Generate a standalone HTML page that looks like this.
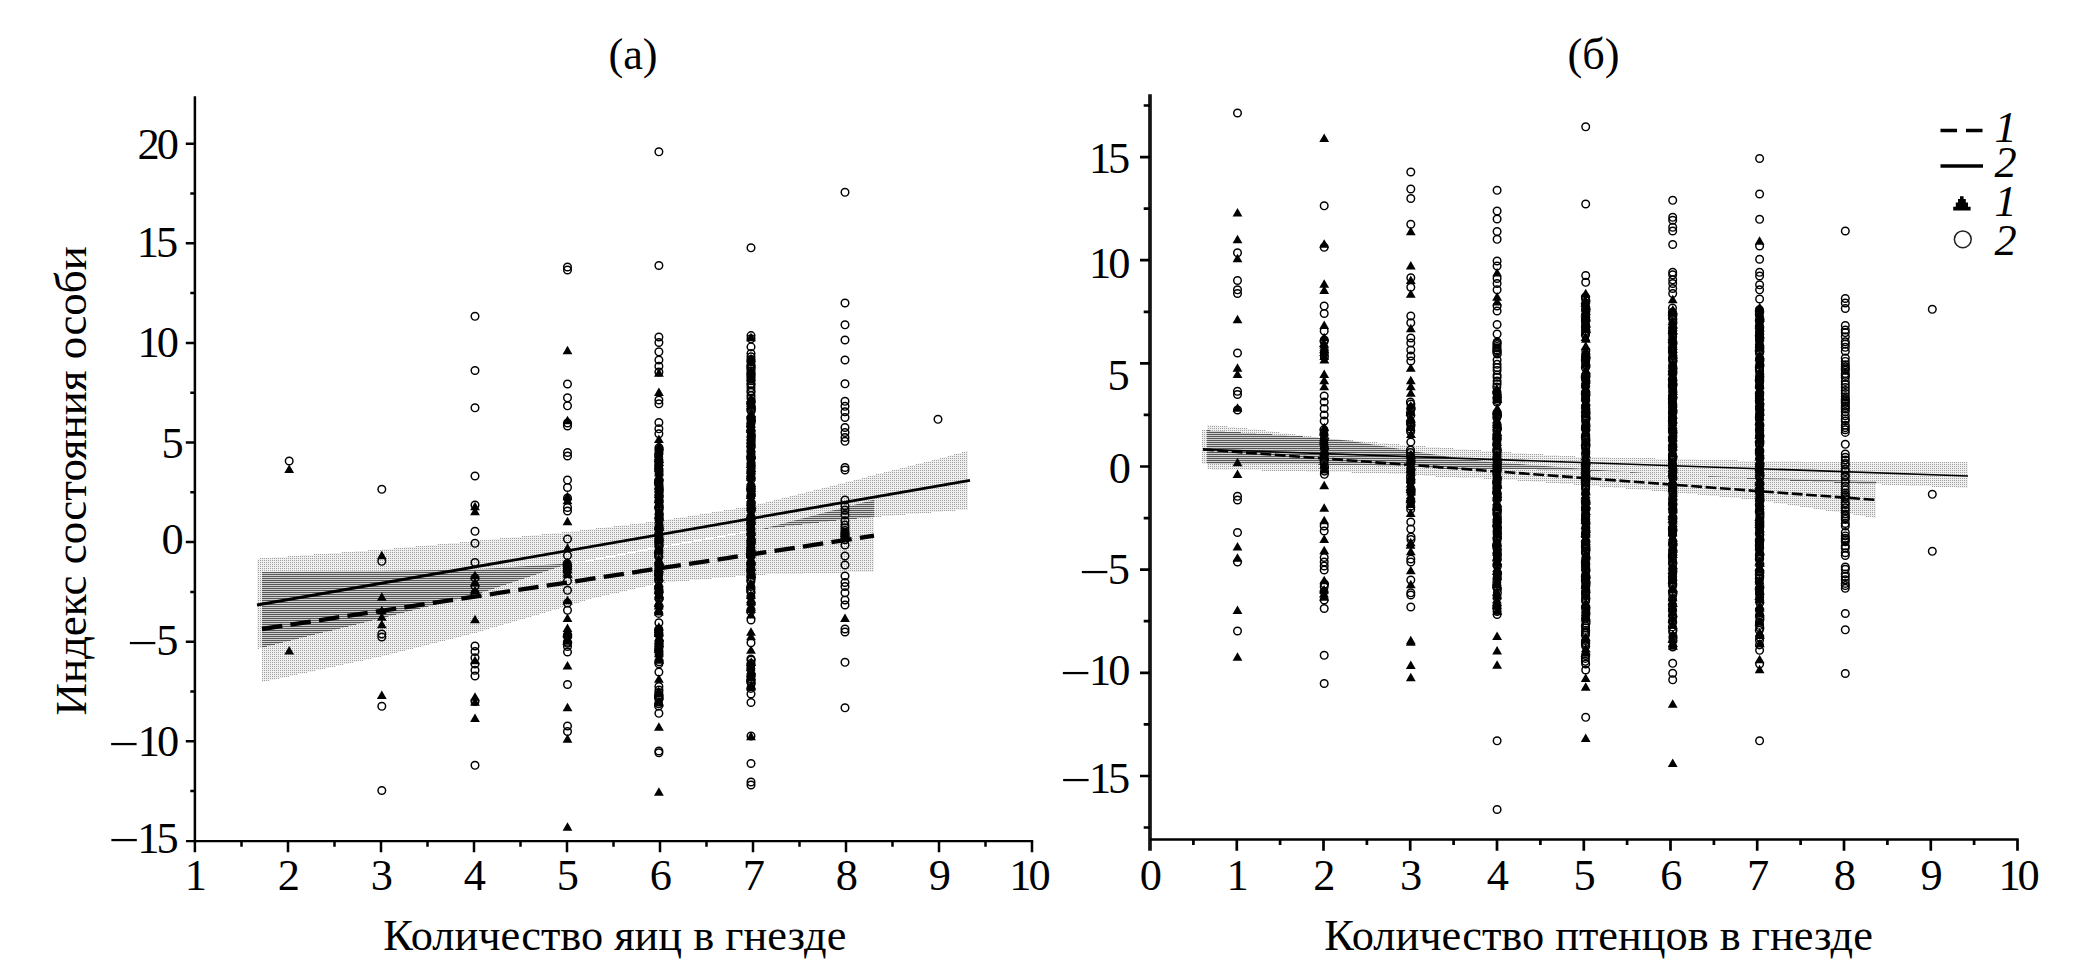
<!DOCTYPE html>
<html lang="ru"><head><meta charset="utf-8"><title>Индекс состояния особи</title>
<style>
html,body{margin:0;padding:0;background:#fff;}
body{width:2079px;height:975px;overflow:hidden;}
svg{display:block;}
text{font-family:"Liberation Serif", serif;font-size:45px;fill:#000;}
.ax{stroke:#000;fill:none;}
.it{font-style:italic;}
</style></head><body>
<svg width="2079" height="975" viewBox="0 0 2079 975">
<defs>
<pattern id="lt" width="2" height="2" patternUnits="userSpaceOnUse"><rect width="2" height="2" fill="#f0f0f0"/><rect width="1" height="1" fill="#a0a0a0"/></pattern>
<pattern id="dk" width="2" height="2" patternUnits="userSpaceOnUse"><rect width="2" height="2" fill="#cfcfcf"/><rect width="2" height="1" fill="#585858"/></pattern>
<clipPath id="ca1"><polygon points="262.0,572.0 381.0,571.0 475.0,569.5 568.0,563.5 588.0,561.5 660.0,548.0 747.0,532.5 766.0,528.0 874.0,499.7 874.0,571.7 766.0,574.5 747.0,575.5 660.0,583.0 588.0,599.5 568.0,606.0 475.0,633.0 381.0,656.5 262.0,682.3"/></clipPath>
<clipPath id="cb1"><polygon points="1207.0,424.4 1262.0,430.0 1306.0,436.0 1351.0,441.0 1406.0,450.0 1440.0,455.6 1492.0,462.0 1581.0,468.8 1669.0,474.7 1757.0,478.0 1876.0,481.3 1876.0,518.0 1757.0,500.0 1669.0,491.9 1581.0,485.0 1492.0,478.8 1440.0,476.9 1406.0,474.0 1351.0,472.5 1306.0,471.5 1262.0,470.5 1207.0,469.4"/></clipPath>
</defs>
<rect width="2079" height="975" fill="#fff"/>
<g shape-rendering="crispEdges">
<polygon points="257.0,558.7 382.0,549.5 475.0,541.0 567.0,532.0 659.0,521.0 751.0,506.0 845.0,482.5 968.0,451.0 968.0,509.5 845.0,519.5 751.0,530.5 659.0,546.5 567.0,564.0 475.0,595.0 382.0,618.0 257.0,649.0" fill="url(#lt)"/>
<polygon points="262.0,572.0 381.0,571.0 475.0,569.5 568.0,563.5 588.0,561.5 660.0,548.0 747.0,532.5 766.0,528.0 874.0,499.7 874.0,571.7 766.0,574.5 747.0,575.5 660.0,583.0 588.0,599.5 568.0,606.0 475.0,633.0 381.0,656.5 262.0,682.3" fill="url(#lt)"/>
<polygon points="257.0,558.7 382.0,549.5 475.0,541.0 567.0,532.0 659.0,521.0 751.0,506.0 845.0,482.5 968.0,451.0 968.0,509.5 845.0,519.5 751.0,530.5 659.0,546.5 567.0,564.0 475.0,595.0 382.0,618.0 257.0,649.0" fill="url(#dk)" clip-path="url(#ca1)"/>
<polygon points="1202.0,430.0 1318.0,437.5 1406.0,445.0 1440.0,447.5 1492.0,451.3 1581.0,456.9 1669.0,458.8 1757.0,461.0 1845.0,462.0 1968.0,462.5 1968.0,488.0 1845.0,483.0 1757.0,479.0 1669.0,474.5 1581.0,470.0 1492.0,469.0 1440.0,468.7 1406.0,466.0 1318.0,464.5 1202.0,463.8" fill="url(#lt)"/>
<polygon points="1207.0,424.4 1262.0,430.0 1306.0,436.0 1351.0,441.0 1406.0,450.0 1440.0,455.6 1492.0,462.0 1581.0,468.8 1669.0,474.7 1757.0,478.0 1876.0,481.3 1876.0,518.0 1757.0,500.0 1669.0,491.9 1581.0,485.0 1492.0,478.8 1440.0,476.9 1406.0,474.0 1351.0,472.5 1306.0,471.5 1262.0,470.5 1207.0,469.4" fill="url(#lt)"/>
<polygon points="1202.0,430.0 1318.0,437.5 1406.0,445.0 1440.0,447.5 1492.0,451.3 1581.0,456.9 1669.0,458.8 1757.0,461.0 1845.0,462.0 1968.0,462.5 1968.0,488.0 1845.0,483.0 1757.0,479.0 1669.0,474.5 1581.0,470.0 1492.0,469.0 1440.0,468.7 1406.0,466.0 1318.0,464.5 1202.0,463.8" fill="url(#dk)" clip-path="url(#cb1)"/>
</g>
<line x1="257" y1="605.0" x2="970" y2="480.3" stroke="#000" stroke-width="2.8"/>
<line x1="262" y1="629.0" x2="874" y2="535.7" stroke="#000" stroke-width="4.3" stroke-dasharray="20.5 8.3"/>
<line x1="1203" y1="449.4" x2="1968" y2="476.0" stroke="#000" stroke-width="1.6"/>
<line x1="1203" y1="449.4" x2="1877" y2="500.0" stroke="#000" stroke-width="2.6" stroke-dasharray="10.8 3.6"/>
<g fill="none" stroke="#000" stroke-width="1.45">
<circle cx="289.2" cy="461.0" r="3.8"/><circle cx="381.8" cy="489.3" r="3.8"/><circle cx="381.8" cy="561.3" r="3.8"/><circle cx="381.8" cy="634.0" r="3.8"/><circle cx="381.8" cy="637.0" r="3.8"/><circle cx="381.8" cy="706.3" r="3.8"/><circle cx="381.8" cy="790.5" r="3.8"/><circle cx="475.0" cy="316.3" r="3.8"/><circle cx="475.0" cy="370.5" r="3.8"/><circle cx="475.0" cy="407.8" r="3.8"/><circle cx="475.0" cy="476.0" r="3.8"/><circle cx="475.0" cy="505.0" r="3.8"/><circle cx="475.0" cy="531.3" r="3.8"/><circle cx="475.0" cy="543.3" r="3.8"/><circle cx="475.0" cy="562.5" r="3.8"/><circle cx="475.0" cy="578.0" r="3.8"/><circle cx="475.0" cy="586.0" r="3.8"/><circle cx="475.0" cy="593.0" r="3.8"/><circle cx="475.0" cy="646.0" r="3.8"/><circle cx="475.0" cy="651.5" r="3.8"/><circle cx="475.0" cy="657.8" r="3.8"/><circle cx="475.0" cy="664.0" r="3.8"/><circle cx="475.0" cy="670.3" r="3.8"/><circle cx="475.0" cy="676.0" r="3.8"/><circle cx="475.0" cy="701.5" r="3.8"/><circle cx="475.0" cy="765.3" r="3.8"/><circle cx="567.5" cy="267.0" r="3.8"/><circle cx="567.5" cy="270.0" r="3.8"/><circle cx="567.5" cy="384.0" r="3.8"/><circle cx="567.5" cy="397.8" r="3.8"/><circle cx="567.5" cy="405.8" r="3.8"/><circle cx="567.5" cy="423.0" r="3.8"/><circle cx="567.5" cy="426.0" r="3.8"/><circle cx="567.5" cy="452.5" r="3.8"/><circle cx="567.5" cy="456.0" r="3.8"/><circle cx="567.5" cy="480.0" r="3.8"/><circle cx="567.5" cy="487.5" r="3.8"/><circle cx="567.5" cy="498.0" r="3.8"/><circle cx="567.5" cy="507.5" r="3.8"/><circle cx="567.5" cy="511.0" r="3.8"/><circle cx="567.5" cy="539.0" r="3.8"/><circle cx="567.5" cy="555.5" r="3.8"/><circle cx="567.2" cy="563.5" r="3.8"/><circle cx="567.2" cy="564.7" r="3.8"/><circle cx="567.4" cy="566.5" r="3.8"/><circle cx="567.3" cy="567.4" r="3.8"/><circle cx="567.2" cy="571.1" r="3.8"/><circle cx="567.5" cy="581.0" r="3.8"/><circle cx="567.5" cy="590.3" r="3.8"/><circle cx="567.5" cy="603.0" r="3.8"/><circle cx="567.5" cy="610.3" r="3.8"/><circle cx="567.6" cy="634.6" r="3.8"/><circle cx="567.7" cy="635.7" r="3.8"/><circle cx="567.6" cy="636.8" r="3.8"/><circle cx="567.3" cy="642.2" r="3.8"/><circle cx="567.6" cy="643.3" r="3.8"/><circle cx="567.5" cy="646.5" r="3.8"/><circle cx="567.5" cy="652.0" r="3.8"/><circle cx="567.5" cy="684.5" r="3.8"/><circle cx="567.5" cy="726.0" r="3.8"/><circle cx="567.5" cy="731.5" r="3.8"/><circle cx="658.9" cy="151.8" r="3.8"/><circle cx="658.9" cy="265.5" r="3.8"/><circle cx="658.9" cy="337.0" r="3.8"/><circle cx="658.9" cy="342.5" r="3.8"/><circle cx="658.9" cy="351.8" r="3.8"/><circle cx="658.9" cy="360.0" r="3.8"/><circle cx="658.9" cy="366.3" r="3.8"/><circle cx="658.9" cy="372.0" r="3.8"/><circle cx="658.9" cy="400.0" r="3.8"/><circle cx="658.9" cy="403.8" r="3.8"/><circle cx="658.9" cy="422.5" r="3.8"/><circle cx="658.9" cy="428.8" r="3.8"/><circle cx="658.9" cy="433.8" r="3.8"/><circle cx="659.0" cy="447.6" r="3.8"/><circle cx="659.1" cy="448.9" r="3.8"/><circle cx="659.0" cy="451.8" r="3.8"/><circle cx="658.6" cy="455.0" r="3.8"/><circle cx="658.9" cy="460.1" r="3.8"/><circle cx="658.8" cy="463.1" r="3.8"/><circle cx="658.7" cy="466.0" r="3.8"/><circle cx="658.8" cy="468.7" r="3.8"/><circle cx="659.0" cy="470.5" r="3.8"/><circle cx="659.1" cy="473.8" r="3.8"/><circle cx="659.2" cy="480.3" r="3.8"/><circle cx="658.6" cy="482.4" r="3.8"/><circle cx="658.9" cy="484.3" r="3.8"/><circle cx="659.2" cy="487.2" r="3.8"/><circle cx="659.2" cy="489.5" r="3.8"/><circle cx="659.1" cy="492.1" r="3.8"/><circle cx="659.2" cy="495.4" r="3.8"/><circle cx="659.1" cy="497.1" r="3.8"/><circle cx="659.0" cy="500.1" r="3.8"/><circle cx="659.2" cy="501.4" r="3.8"/><circle cx="659.2" cy="505.7" r="3.8"/><circle cx="659.0" cy="507.1" r="3.8"/><circle cx="659.0" cy="508.0" r="3.8"/><circle cx="659.1" cy="509.6" r="3.8"/><circle cx="659.2" cy="513.5" r="3.8"/><circle cx="659.2" cy="518.0" r="3.8"/><circle cx="659.2" cy="520.0" r="3.8"/><circle cx="659.0" cy="528.0" r="3.8"/><circle cx="659.2" cy="529.2" r="3.8"/><circle cx="658.7" cy="533.6" r="3.8"/><circle cx="658.9" cy="536.5" r="3.8"/><circle cx="659.1" cy="538.6" r="3.8"/><circle cx="659.1" cy="540.0" r="3.8"/><circle cx="659.0" cy="541.3" r="3.8"/><circle cx="659.0" cy="542.6" r="3.8"/><circle cx="658.9" cy="544.0" r="3.8"/><circle cx="659.2" cy="545.6" r="3.8"/><circle cx="658.9" cy="546.7" r="3.8"/><circle cx="659.0" cy="550.6" r="3.8"/><circle cx="658.7" cy="552.4" r="3.8"/><circle cx="658.7" cy="554.0" r="3.8"/><circle cx="658.7" cy="555.9" r="3.8"/><circle cx="658.9" cy="557.1" r="3.8"/><circle cx="659.0" cy="564.2" r="3.8"/><circle cx="659.2" cy="565.1" r="3.8"/><circle cx="658.8" cy="569.0" r="3.8"/><circle cx="658.9" cy="572.9" r="3.8"/><circle cx="658.6" cy="573.9" r="3.8"/><circle cx="658.6" cy="575.3" r="3.8"/><circle cx="658.6" cy="579.0" r="3.8"/><circle cx="658.8" cy="580.5" r="3.8"/><circle cx="658.8" cy="587.0" r="3.8"/><circle cx="659.1" cy="591.0" r="3.8"/><circle cx="658.9" cy="592.4" r="3.8"/><circle cx="659.0" cy="597.4" r="3.8"/><circle cx="659.1" cy="599.1" r="3.8"/><circle cx="659.1" cy="606.6" r="3.8"/><circle cx="658.7" cy="613.4" r="3.8"/><circle cx="658.9" cy="622.8" r="3.8"/><circle cx="658.8" cy="629.2" r="3.8"/><circle cx="658.7" cy="630.5" r="3.8"/><circle cx="658.7" cy="633.7" r="3.8"/><circle cx="659.1" cy="635.1" r="3.8"/><circle cx="659.2" cy="641.1" r="3.8"/><circle cx="658.9" cy="644.1" r="3.8"/><circle cx="659.1" cy="645.8" r="3.8"/><circle cx="659.0" cy="647.6" r="3.8"/><circle cx="658.6" cy="649.8" r="3.8"/><circle cx="659.0" cy="651.3" r="3.8"/><circle cx="659.1" cy="654.6" r="3.8"/><circle cx="659.2" cy="661.7" r="3.8"/><circle cx="658.9" cy="663.7" r="3.8"/><circle cx="658.9" cy="672.0" r="3.8"/><circle cx="658.9" cy="686.5" r="3.8"/><circle cx="659.0" cy="690.0" r="3.8"/><circle cx="658.8" cy="692.5" r="3.8"/><circle cx="659.0" cy="694.9" r="3.8"/><circle cx="658.9" cy="696.0" r="3.8"/><circle cx="658.6" cy="697.3" r="3.8"/><circle cx="659.2" cy="698.3" r="3.8"/><circle cx="658.9" cy="699.2" r="3.8"/><circle cx="658.6" cy="703.7" r="3.8"/><circle cx="658.6" cy="706.0" r="3.8"/><circle cx="658.9" cy="713.3" r="3.8"/><circle cx="658.9" cy="752.8" r="3.8"/><circle cx="658.9" cy="751.0" r="3.8"/><circle cx="751.0" cy="247.8" r="3.8"/><circle cx="751.0" cy="335.6" r="3.8"/><circle cx="751.0" cy="338.8" r="3.8"/><circle cx="751.0" cy="346.9" r="3.8"/><circle cx="751.0" cy="353.5" r="3.8"/><circle cx="751.0" cy="356.7" r="3.8"/><circle cx="751.0" cy="359.5" r="3.8"/><circle cx="751.0" cy="361.1" r="3.8"/><circle cx="751.0" cy="364.4" r="3.8"/><circle cx="751.0" cy="366.6" r="3.8"/><circle cx="751.0" cy="367.8" r="3.8"/><circle cx="751.0" cy="369.0" r="3.8"/><circle cx="751.0" cy="371.3" r="3.8"/><circle cx="751.0" cy="373.5" r="3.8"/><circle cx="751.0" cy="375.3" r="3.8"/><circle cx="751.0" cy="376.8" r="3.8"/><circle cx="751.0" cy="378.7" r="3.8"/><circle cx="751.0" cy="380.6" r="3.8"/><circle cx="751.0" cy="383.7" r="3.8"/><circle cx="751.0" cy="384.8" r="3.8"/><circle cx="751.0" cy="387.7" r="3.8"/><circle cx="751.0" cy="390.8" r="3.8"/><circle cx="751.0" cy="392.2" r="3.8"/><circle cx="751.0" cy="395.5" r="3.8"/><circle cx="751.0" cy="398.3" r="3.8"/><circle cx="751.3" cy="401.2" r="3.8"/><circle cx="750.7" cy="403.3" r="3.8"/><circle cx="751.3" cy="406.7" r="3.8"/><circle cx="751.1" cy="408.4" r="3.8"/><circle cx="751.0" cy="410.2" r="3.8"/><circle cx="751.2" cy="411.1" r="3.8"/><circle cx="750.9" cy="418.0" r="3.8"/><circle cx="751.3" cy="420.3" r="3.8"/><circle cx="751.3" cy="421.4" r="3.8"/><circle cx="750.8" cy="424.6" r="3.8"/><circle cx="750.7" cy="430.7" r="3.8"/><circle cx="751.3" cy="434.6" r="3.8"/><circle cx="751.3" cy="437.9" r="3.8"/><circle cx="751.2" cy="441.1" r="3.8"/><circle cx="751.0" cy="444.0" r="3.8"/><circle cx="751.2" cy="445.8" r="3.8"/><circle cx="751.0" cy="447.4" r="3.8"/><circle cx="750.8" cy="451.1" r="3.8"/><circle cx="751.0" cy="456.2" r="3.8"/><circle cx="751.3" cy="457.7" r="3.8"/><circle cx="750.8" cy="458.7" r="3.8"/><circle cx="751.1" cy="462.8" r="3.8"/><circle cx="751.2" cy="466.7" r="3.8"/><circle cx="750.9" cy="471.1" r="3.8"/><circle cx="751.1" cy="473.7" r="3.8"/><circle cx="750.9" cy="477.4" r="3.8"/><circle cx="751.2" cy="479.2" r="3.8"/><circle cx="750.9" cy="486.6" r="3.8"/><circle cx="751.2" cy="488.8" r="3.8"/><circle cx="750.7" cy="490.0" r="3.8"/><circle cx="751.2" cy="493.7" r="3.8"/><circle cx="750.8" cy="496.4" r="3.8"/><circle cx="751.2" cy="502.4" r="3.8"/><circle cx="751.0" cy="504.9" r="3.8"/><circle cx="751.0" cy="508.1" r="3.8"/><circle cx="751.2" cy="509.1" r="3.8"/><circle cx="751.2" cy="510.8" r="3.8"/><circle cx="751.3" cy="517.9" r="3.8"/><circle cx="750.9" cy="521.4" r="3.8"/><circle cx="751.2" cy="523.0" r="3.8"/><circle cx="750.7" cy="524.5" r="3.8"/><circle cx="750.8" cy="528.3" r="3.8"/><circle cx="751.1" cy="533.4" r="3.8"/><circle cx="751.0" cy="534.3" r="3.8"/><circle cx="751.1" cy="539.1" r="3.8"/><circle cx="751.2" cy="541.4" r="3.8"/><circle cx="751.1" cy="542.4" r="3.8"/><circle cx="750.8" cy="544.5" r="3.8"/><circle cx="750.8" cy="548.5" r="3.8"/><circle cx="751.0" cy="551.3" r="3.8"/><circle cx="750.8" cy="552.2" r="3.8"/><circle cx="750.9" cy="555.5" r="3.8"/><circle cx="750.9" cy="556.8" r="3.8"/><circle cx="750.9" cy="562.6" r="3.8"/><circle cx="751.3" cy="564.0" r="3.8"/><circle cx="750.7" cy="565.1" r="3.8"/><circle cx="750.9" cy="568.5" r="3.8"/><circle cx="750.8" cy="569.6" r="3.8"/><circle cx="750.7" cy="571.7" r="3.8"/><circle cx="751.3" cy="574.8" r="3.8"/><circle cx="750.7" cy="576.4" r="3.8"/><circle cx="751.3" cy="578.0" r="3.8"/><circle cx="750.8" cy="580.1" r="3.8"/><circle cx="750.9" cy="581.4" r="3.8"/><circle cx="750.8" cy="586.5" r="3.8"/><circle cx="750.7" cy="588.9" r="3.8"/><circle cx="750.7" cy="591.1" r="3.8"/><circle cx="751.1" cy="592.4" r="3.8"/><circle cx="750.9" cy="596.7" r="3.8"/><circle cx="751.2" cy="603.4" r="3.8"/><circle cx="750.7" cy="611.4" r="3.8"/><circle cx="751.0" cy="620.0" r="3.8"/><circle cx="751.0" cy="642.8" r="3.8"/><circle cx="750.9" cy="659.0" r="3.8"/><circle cx="751.2" cy="660.0" r="3.8"/><circle cx="751.0" cy="663.4" r="3.8"/><circle cx="750.8" cy="665.2" r="3.8"/><circle cx="750.8" cy="668.7" r="3.8"/><circle cx="751.1" cy="674.9" r="3.8"/><circle cx="751.0" cy="679.0" r="3.8"/><circle cx="750.7" cy="680.8" r="3.8"/><circle cx="750.9" cy="682.4" r="3.8"/><circle cx="751.3" cy="683.6" r="3.8"/><circle cx="750.8" cy="688.4" r="3.8"/><circle cx="751.0" cy="694.0" r="3.8"/><circle cx="751.0" cy="702.5" r="3.8"/><circle cx="751.0" cy="736.0" r="3.8"/><circle cx="751.0" cy="763.5" r="3.8"/><circle cx="751.0" cy="782.0" r="3.8"/><circle cx="751.0" cy="785.0" r="3.8"/><circle cx="845.0" cy="192.3" r="3.8"/><circle cx="845.0" cy="303.0" r="3.8"/><circle cx="845.0" cy="324.8" r="3.8"/><circle cx="845.0" cy="340.0" r="3.8"/><circle cx="845.0" cy="360.0" r="3.8"/><circle cx="845.0" cy="383.8" r="3.8"/><circle cx="845.0" cy="401.3" r="3.8"/><circle cx="845.0" cy="406.3" r="3.8"/><circle cx="845.0" cy="411.8" r="3.8"/><circle cx="845.0" cy="417.5" r="3.8"/><circle cx="845.0" cy="427.5" r="3.8"/><circle cx="845.0" cy="432.5" r="3.8"/><circle cx="845.0" cy="437.5" r="3.8"/><circle cx="845.0" cy="441.3" r="3.8"/><circle cx="845.0" cy="467.5" r="3.8"/><circle cx="845.0" cy="470.0" r="3.8"/><circle cx="845.0" cy="500.0" r="3.8"/><circle cx="845.0" cy="506.0" r="3.8"/><circle cx="845.0" cy="510.0" r="3.8"/><circle cx="845.0" cy="515.0" r="3.8"/><circle cx="845.0" cy="521.0" r="3.8"/><circle cx="845.0" cy="525.0" r="3.8"/><circle cx="845.0" cy="527.7" r="3.8"/><circle cx="845.0" cy="530.6" r="3.8"/><circle cx="845.0" cy="532.7" r="3.8"/><circle cx="845.0" cy="533.9" r="3.8"/><circle cx="845.0" cy="535.2" r="3.8"/><circle cx="845.0" cy="536.9" r="3.8"/><circle cx="845.0" cy="539.7" r="3.8"/><circle cx="845.0" cy="545.0" r="3.8"/><circle cx="845.0" cy="556.0" r="3.8"/><circle cx="845.0" cy="565.0" r="3.8"/><circle cx="845.0" cy="576.0" r="3.8"/><circle cx="845.0" cy="582.5" r="3.8"/><circle cx="845.0" cy="586.5" r="3.8"/><circle cx="845.0" cy="592.8" r="3.8"/><circle cx="845.0" cy="600.0" r="3.8"/><circle cx="845.0" cy="605.0" r="3.8"/><circle cx="845.0" cy="629.0" r="3.8"/><circle cx="845.0" cy="632.0" r="3.8"/><circle cx="845.0" cy="662.3" r="3.8"/><circle cx="845.0" cy="707.8" r="3.8"/><circle cx="938.0" cy="419.3" r="3.8"/><circle cx="1237.5" cy="113.0" r="3.8"/><circle cx="1237.5" cy="252.8" r="3.8"/><circle cx="1237.5" cy="280.5" r="3.8"/><circle cx="1237.5" cy="289.8" r="3.8"/><circle cx="1237.5" cy="293.5" r="3.8"/><circle cx="1237.5" cy="353.0" r="3.8"/><circle cx="1237.5" cy="391.3" r="3.8"/><circle cx="1237.5" cy="394.5" r="3.8"/><circle cx="1237.5" cy="410.0" r="3.8"/><circle cx="1237.5" cy="496.3" r="3.8"/><circle cx="1237.5" cy="500.0" r="3.8"/><circle cx="1237.5" cy="532.5" r="3.8"/><circle cx="1237.5" cy="562.0" r="3.8"/><circle cx="1237.5" cy="631.0" r="3.8"/><circle cx="1324.2" cy="205.8" r="3.8"/><circle cx="1324.2" cy="247.3" r="3.8"/><circle cx="1324.2" cy="306.0" r="3.8"/><circle cx="1324.2" cy="313.5" r="3.8"/><circle cx="1324.2" cy="331.0" r="3.8"/><circle cx="1324.3" cy="340.0" r="3.8"/><circle cx="1324.1" cy="341.5" r="3.8"/><circle cx="1324.3" cy="353.0" r="3.8"/><circle cx="1324.4" cy="357.0" r="3.8"/><circle cx="1324.2" cy="396.0" r="3.8"/><circle cx="1324.2" cy="402.0" r="3.8"/><circle cx="1324.2" cy="408.5" r="3.8"/><circle cx="1324.2" cy="415.0" r="3.8"/><circle cx="1324.2" cy="421.0" r="3.8"/><circle cx="1323.9" cy="429.6" r="3.8"/><circle cx="1323.9" cy="433.9" r="3.8"/><circle cx="1324.3" cy="438.8" r="3.8"/><circle cx="1323.9" cy="443.0" r="3.8"/><circle cx="1324.4" cy="448.0" r="3.8"/><circle cx="1324.4" cy="453.5" r="3.8"/><circle cx="1324.2" cy="458.1" r="3.8"/><circle cx="1324.1" cy="460.2" r="3.8"/><circle cx="1324.1" cy="463.0" r="3.8"/><circle cx="1324.6" cy="467.0" r="3.8"/><circle cx="1324.5" cy="471.1" r="3.8"/><circle cx="1324.4" cy="474.3" r="3.8"/><circle cx="1324.2" cy="526.0" r="3.8"/><circle cx="1324.2" cy="531.0" r="3.8"/><circle cx="1324.2" cy="557.5" r="3.8"/><circle cx="1324.2" cy="562.0" r="3.8"/><circle cx="1324.2" cy="566.0" r="3.8"/><circle cx="1324.2" cy="570.0" r="3.8"/><circle cx="1324.5" cy="584.0" r="3.8"/><circle cx="1324.2" cy="586.8" r="3.8"/><circle cx="1324.0" cy="591.6" r="3.8"/><circle cx="1324.2" cy="600.0" r="3.8"/><circle cx="1324.2" cy="608.5" r="3.8"/><circle cx="1324.2" cy="655.3" r="3.8"/><circle cx="1324.2" cy="683.5" r="3.8"/><circle cx="1410.8" cy="172.0" r="3.8"/><circle cx="1410.8" cy="189.0" r="3.8"/><circle cx="1410.8" cy="198.5" r="3.8"/><circle cx="1410.8" cy="224.3" r="3.8"/><circle cx="1410.8" cy="277.8" r="3.8"/><circle cx="1410.8" cy="287.3" r="3.8"/><circle cx="1410.8" cy="316.0" r="3.8"/><circle cx="1410.8" cy="322.8" r="3.8"/><circle cx="1410.8" cy="338.0" r="3.8"/><circle cx="1410.8" cy="343.0" r="3.8"/><circle cx="1410.8" cy="350.0" r="3.8"/><circle cx="1410.8" cy="356.0" r="3.8"/><circle cx="1410.8" cy="361.0" r="3.8"/><circle cx="1410.4" cy="402.0" r="3.8"/><circle cx="1410.9" cy="404.1" r="3.8"/><circle cx="1411.0" cy="407.7" r="3.8"/><circle cx="1411.0" cy="409.0" r="3.8"/><circle cx="1410.4" cy="412.9" r="3.8"/><circle cx="1410.8" cy="415.2" r="3.8"/><circle cx="1410.6" cy="421.8" r="3.8"/><circle cx="1410.6" cy="423.5" r="3.8"/><circle cx="1411.0" cy="425.4" r="3.8"/><circle cx="1410.6" cy="429.3" r="3.8"/><circle cx="1410.6" cy="431.7" r="3.8"/><circle cx="1410.8" cy="442.0" r="3.8"/><circle cx="1410.5" cy="450.0" r="3.8"/><circle cx="1410.4" cy="452.5" r="3.8"/><circle cx="1410.6" cy="456.1" r="3.8"/><circle cx="1410.9" cy="458.9" r="3.8"/><circle cx="1410.9" cy="462.4" r="3.8"/><circle cx="1411.0" cy="469.8" r="3.8"/><circle cx="1410.8" cy="473.2" r="3.8"/><circle cx="1410.5" cy="476.9" r="3.8"/><circle cx="1410.9" cy="480.6" r="3.8"/><circle cx="1410.7" cy="481.9" r="3.8"/><circle cx="1411.1" cy="489.9" r="3.8"/><circle cx="1411.1" cy="492.8" r="3.8"/><circle cx="1410.9" cy="501.4" r="3.8"/><circle cx="1410.7" cy="506.2" r="3.8"/><circle cx="1410.7" cy="509.4" r="3.8"/><circle cx="1410.8" cy="522.0" r="3.8"/><circle cx="1410.8" cy="529.0" r="3.8"/><circle cx="1411.0" cy="537.0" r="3.8"/><circle cx="1411.0" cy="539.6" r="3.8"/><circle cx="1410.8" cy="559.0" r="3.8"/><circle cx="1410.8" cy="562.0" r="3.8"/><circle cx="1410.8" cy="580.0" r="3.8"/><circle cx="1410.8" cy="592.8" r="3.8"/><circle cx="1410.8" cy="595.0" r="3.8"/><circle cx="1410.8" cy="607.0" r="3.8"/><circle cx="1497.1" cy="190.3" r="3.8"/><circle cx="1497.1" cy="211.0" r="3.8"/><circle cx="1497.1" cy="219.0" r="3.8"/><circle cx="1497.1" cy="231.5" r="3.8"/><circle cx="1497.1" cy="239.3" r="3.8"/><circle cx="1497.1" cy="261.0" r="3.8"/><circle cx="1497.1" cy="266.0" r="3.8"/><circle cx="1497.1" cy="278.5" r="3.8"/><circle cx="1497.1" cy="283.5" r="3.8"/><circle cx="1497.1" cy="289.8" r="3.8"/><circle cx="1497.1" cy="306.0" r="3.8"/><circle cx="1497.1" cy="311.0" r="3.8"/><circle cx="1497.1" cy="324.5" r="3.8"/><circle cx="1497.1" cy="334.0" r="3.8"/><circle cx="1497.2" cy="342.0" r="3.8"/><circle cx="1497.0" cy="343.1" r="3.8"/><circle cx="1497.0" cy="344.6" r="3.8"/><circle cx="1496.9" cy="346.4" r="3.8"/><circle cx="1497.0" cy="348.0" r="3.8"/><circle cx="1496.8" cy="349.9" r="3.8"/><circle cx="1497.3" cy="350.9" r="3.8"/><circle cx="1496.8" cy="352.3" r="3.8"/><circle cx="1497.3" cy="354.0" r="3.8"/><circle cx="1497.1" cy="360.0" r="3.8"/><circle cx="1497.1" cy="364.3" r="3.8"/><circle cx="1497.1" cy="367.5" r="3.8"/><circle cx="1497.1" cy="370.4" r="3.8"/><circle cx="1497.1" cy="375.1" r="3.8"/><circle cx="1497.1" cy="377.3" r="3.8"/><circle cx="1497.1" cy="381.1" r="3.8"/><circle cx="1497.1" cy="384.0" r="3.8"/><circle cx="1496.8" cy="387.0" r="3.8"/><circle cx="1496.9" cy="391.8" r="3.8"/><circle cx="1497.3" cy="396.2" r="3.8"/><circle cx="1497.1" cy="397.7" r="3.8"/><circle cx="1497.3" cy="400.5" r="3.8"/><circle cx="1497.0" cy="402.2" r="3.8"/><circle cx="1497.0" cy="412.7" r="3.8"/><circle cx="1497.2" cy="414.0" r="3.8"/><circle cx="1497.4" cy="415.2" r="3.8"/><circle cx="1497.3" cy="416.0" r="3.8"/><circle cx="1496.8" cy="417.7" r="3.8"/><circle cx="1497.2" cy="427.2" r="3.8"/><circle cx="1497.4" cy="428.7" r="3.8"/><circle cx="1496.9" cy="430.4" r="3.8"/><circle cx="1496.8" cy="434.6" r="3.8"/><circle cx="1497.1" cy="436.8" r="3.8"/><circle cx="1496.8" cy="438.6" r="3.8"/><circle cx="1497.1" cy="439.9" r="3.8"/><circle cx="1496.8" cy="443.5" r="3.8"/><circle cx="1496.8" cy="445.0" r="3.8"/><circle cx="1497.1" cy="448.4" r="3.8"/><circle cx="1496.8" cy="450.1" r="3.8"/><circle cx="1497.0" cy="451.6" r="3.8"/><circle cx="1497.1" cy="452.8" r="3.8"/><circle cx="1497.1" cy="455.7" r="3.8"/><circle cx="1496.9" cy="458.2" r="3.8"/><circle cx="1497.2" cy="460.1" r="3.8"/><circle cx="1497.2" cy="462.7" r="3.8"/><circle cx="1497.3" cy="463.6" r="3.8"/><circle cx="1496.9" cy="465.8" r="3.8"/><circle cx="1497.2" cy="467.2" r="3.8"/><circle cx="1497.2" cy="469.0" r="3.8"/><circle cx="1497.2" cy="470.5" r="3.8"/><circle cx="1496.9" cy="472.1" r="3.8"/><circle cx="1496.8" cy="474.4" r="3.8"/><circle cx="1497.3" cy="477.9" r="3.8"/><circle cx="1497.1" cy="480.1" r="3.8"/><circle cx="1496.8" cy="481.9" r="3.8"/><circle cx="1496.8" cy="482.8" r="3.8"/><circle cx="1497.0" cy="485.0" r="3.8"/><circle cx="1497.4" cy="486.9" r="3.8"/><circle cx="1496.8" cy="488.1" r="3.8"/><circle cx="1496.8" cy="491.8" r="3.8"/><circle cx="1496.8" cy="492.8" r="3.8"/><circle cx="1497.3" cy="494.7" r="3.8"/><circle cx="1497.2" cy="497.9" r="3.8"/><circle cx="1496.9" cy="499.8" r="3.8"/><circle cx="1496.9" cy="508.5" r="3.8"/><circle cx="1497.2" cy="509.7" r="3.8"/><circle cx="1497.0" cy="510.9" r="3.8"/><circle cx="1497.3" cy="512.8" r="3.8"/><circle cx="1496.8" cy="513.9" r="3.8"/><circle cx="1497.4" cy="516.9" r="3.8"/><circle cx="1497.0" cy="520.2" r="3.8"/><circle cx="1497.4" cy="521.6" r="3.8"/><circle cx="1497.2" cy="524.0" r="3.8"/><circle cx="1496.8" cy="525.8" r="3.8"/><circle cx="1497.4" cy="527.5" r="3.8"/><circle cx="1497.3" cy="528.6" r="3.8"/><circle cx="1497.1" cy="531.1" r="3.8"/><circle cx="1497.3" cy="532.1" r="3.8"/><circle cx="1497.2" cy="533.2" r="3.8"/><circle cx="1497.3" cy="536.1" r="3.8"/><circle cx="1497.3" cy="537.1" r="3.8"/><circle cx="1497.2" cy="538.1" r="3.8"/><circle cx="1497.1" cy="539.9" r="3.8"/><circle cx="1497.0" cy="543.9" r="3.8"/><circle cx="1496.8" cy="544.9" r="3.8"/><circle cx="1496.8" cy="546.2" r="3.8"/><circle cx="1496.9" cy="547.9" r="3.8"/><circle cx="1497.4" cy="550.0" r="3.8"/><circle cx="1497.0" cy="553.2" r="3.8"/><circle cx="1497.3" cy="555.0" r="3.8"/><circle cx="1497.4" cy="558.8" r="3.8"/><circle cx="1496.9" cy="564.5" r="3.8"/><circle cx="1497.4" cy="566.2" r="3.8"/><circle cx="1497.4" cy="573.0" r="3.8"/><circle cx="1497.3" cy="574.0" r="3.8"/><circle cx="1497.3" cy="577.1" r="3.8"/><circle cx="1497.0" cy="579.0" r="3.8"/><circle cx="1496.8" cy="582.6" r="3.8"/><circle cx="1496.8" cy="586.0" r="3.8"/><circle cx="1496.8" cy="587.4" r="3.8"/><circle cx="1497.4" cy="588.9" r="3.8"/><circle cx="1497.4" cy="592.8" r="3.8"/><circle cx="1497.1" cy="597.6" r="3.8"/><circle cx="1496.9" cy="606.3" r="3.8"/><circle cx="1496.9" cy="608.4" r="3.8"/><circle cx="1497.1" cy="611.5" r="3.8"/><circle cx="1497.1" cy="614.5" r="3.8"/><circle cx="1497.1" cy="740.8" r="3.8"/><circle cx="1497.1" cy="809.5" r="3.8"/><circle cx="1585.7" cy="126.8" r="3.8"/><circle cx="1585.7" cy="204.0" r="3.8"/><circle cx="1585.7" cy="275.5" r="3.8"/><circle cx="1585.7" cy="282.3" r="3.8"/><circle cx="1585.4" cy="297.0" r="3.8"/><circle cx="1585.5" cy="298.5" r="3.8"/><circle cx="1586.0" cy="300.9" r="3.8"/><circle cx="1585.4" cy="304.4" r="3.8"/><circle cx="1585.9" cy="308.1" r="3.8"/><circle cx="1585.7" cy="309.1" r="3.8"/><circle cx="1585.9" cy="311.1" r="3.8"/><circle cx="1585.8" cy="314.6" r="3.8"/><circle cx="1585.4" cy="318.8" r="3.8"/><circle cx="1585.9" cy="320.0" r="3.8"/><circle cx="1585.4" cy="321.3" r="3.8"/><circle cx="1585.6" cy="324.7" r="3.8"/><circle cx="1585.4" cy="326.9" r="3.8"/><circle cx="1585.6" cy="330.5" r="3.8"/><circle cx="1586.0" cy="331.6" r="3.8"/><circle cx="1585.7" cy="333.2" r="3.8"/><circle cx="1585.4" cy="335.1" r="3.8"/><circle cx="1585.8" cy="350.8" r="3.8"/><circle cx="1585.7" cy="354.9" r="3.8"/><circle cx="1585.8" cy="357.0" r="3.8"/><circle cx="1585.8" cy="357.9" r="3.8"/><circle cx="1585.9" cy="358.9" r="3.8"/><circle cx="1585.6" cy="360.2" r="3.8"/><circle cx="1585.6" cy="361.5" r="3.8"/><circle cx="1585.7" cy="364.4" r="3.8"/><circle cx="1586.0" cy="366.0" r="3.8"/><circle cx="1585.4" cy="367.8" r="3.8"/><circle cx="1585.9" cy="375.5" r="3.8"/><circle cx="1585.9" cy="377.0" r="3.8"/><circle cx="1585.4" cy="378.7" r="3.8"/><circle cx="1586.0" cy="381.2" r="3.8"/><circle cx="1585.4" cy="385.6" r="3.8"/><circle cx="1585.7" cy="391.9" r="3.8"/><circle cx="1585.7" cy="393.4" r="3.8"/><circle cx="1585.8" cy="394.4" r="3.8"/><circle cx="1585.8" cy="395.8" r="3.8"/><circle cx="1585.6" cy="398.3" r="3.8"/><circle cx="1585.6" cy="399.1" r="3.8"/><circle cx="1585.7" cy="400.2" r="3.8"/><circle cx="1585.7" cy="405.9" r="3.8"/><circle cx="1585.5" cy="406.9" r="3.8"/><circle cx="1585.8" cy="409.7" r="3.8"/><circle cx="1585.9" cy="411.4" r="3.8"/><circle cx="1585.9" cy="413.0" r="3.8"/><circle cx="1585.9" cy="414.3" r="3.8"/><circle cx="1585.4" cy="416.1" r="3.8"/><circle cx="1585.9" cy="416.9" r="3.8"/><circle cx="1586.0" cy="418.3" r="3.8"/><circle cx="1585.9" cy="419.5" r="3.8"/><circle cx="1585.6" cy="421.0" r="3.8"/><circle cx="1585.9" cy="424.7" r="3.8"/><circle cx="1585.5" cy="427.2" r="3.8"/><circle cx="1585.4" cy="428.6" r="3.8"/><circle cx="1585.9" cy="429.8" r="3.8"/><circle cx="1585.7" cy="434.8" r="3.8"/><circle cx="1585.7" cy="436.5" r="3.8"/><circle cx="1585.7" cy="437.9" r="3.8"/><circle cx="1585.6" cy="439.1" r="3.8"/><circle cx="1586.0" cy="440.3" r="3.8"/><circle cx="1585.7" cy="442.9" r="3.8"/><circle cx="1586.0" cy="444.7" r="3.8"/><circle cx="1585.8" cy="445.9" r="3.8"/><circle cx="1585.7" cy="447.1" r="3.8"/><circle cx="1585.6" cy="448.1" r="3.8"/><circle cx="1585.8" cy="451.6" r="3.8"/><circle cx="1585.6" cy="454.5" r="3.8"/><circle cx="1585.8" cy="463.7" r="3.8"/><circle cx="1585.7" cy="464.7" r="3.8"/><circle cx="1585.8" cy="465.8" r="3.8"/><circle cx="1585.5" cy="468.7" r="3.8"/><circle cx="1585.9" cy="471.0" r="3.8"/><circle cx="1585.6" cy="474.3" r="3.8"/><circle cx="1586.0" cy="476.4" r="3.8"/><circle cx="1586.0" cy="478.5" r="3.8"/><circle cx="1585.7" cy="480.3" r="3.8"/><circle cx="1585.4" cy="481.4" r="3.8"/><circle cx="1585.6" cy="483.1" r="3.8"/><circle cx="1585.6" cy="484.8" r="3.8"/><circle cx="1585.7" cy="486.6" r="3.8"/><circle cx="1585.6" cy="487.7" r="3.8"/><circle cx="1585.6" cy="488.8" r="3.8"/><circle cx="1585.6" cy="493.0" r="3.8"/><circle cx="1585.9" cy="502.1" r="3.8"/><circle cx="1585.6" cy="503.1" r="3.8"/><circle cx="1585.4" cy="507.4" r="3.8"/><circle cx="1586.0" cy="508.5" r="3.8"/><circle cx="1585.5" cy="509.7" r="3.8"/><circle cx="1585.6" cy="513.8" r="3.8"/><circle cx="1585.5" cy="516.1" r="3.8"/><circle cx="1585.6" cy="518.7" r="3.8"/><circle cx="1585.4" cy="520.8" r="3.8"/><circle cx="1585.6" cy="522.0" r="3.8"/><circle cx="1586.0" cy="523.6" r="3.8"/><circle cx="1585.8" cy="527.4" r="3.8"/><circle cx="1585.9" cy="531.7" r="3.8"/><circle cx="1585.6" cy="534.5" r="3.8"/><circle cx="1585.9" cy="535.5" r="3.8"/><circle cx="1585.9" cy="541.2" r="3.8"/><circle cx="1585.5" cy="543.8" r="3.8"/><circle cx="1585.4" cy="545.4" r="3.8"/><circle cx="1585.9" cy="546.7" r="3.8"/><circle cx="1585.4" cy="547.8" r="3.8"/><circle cx="1586.0" cy="549.1" r="3.8"/><circle cx="1585.9" cy="550.7" r="3.8"/><circle cx="1585.4" cy="552.1" r="3.8"/><circle cx="1585.7" cy="553.4" r="3.8"/><circle cx="1586.0" cy="557.4" r="3.8"/><circle cx="1585.4" cy="561.3" r="3.8"/><circle cx="1585.7" cy="564.3" r="3.8"/><circle cx="1585.6" cy="565.5" r="3.8"/><circle cx="1585.7" cy="568.3" r="3.8"/><circle cx="1585.8" cy="569.4" r="3.8"/><circle cx="1585.9" cy="570.8" r="3.8"/><circle cx="1585.6" cy="575.0" r="3.8"/><circle cx="1586.0" cy="577.1" r="3.8"/><circle cx="1585.9" cy="578.1" r="3.8"/><circle cx="1585.4" cy="579.7" r="3.8"/><circle cx="1585.5" cy="581.1" r="3.8"/><circle cx="1586.0" cy="582.0" r="3.8"/><circle cx="1586.0" cy="583.6" r="3.8"/><circle cx="1585.9" cy="585.7" r="3.8"/><circle cx="1585.5" cy="587.0" r="3.8"/><circle cx="1585.9" cy="590.8" r="3.8"/><circle cx="1585.5" cy="592.2" r="3.8"/><circle cx="1585.6" cy="593.5" r="3.8"/><circle cx="1585.7" cy="595.9" r="3.8"/><circle cx="1585.8" cy="597.9" r="3.8"/><circle cx="1585.7" cy="600.0" r="3.8"/><circle cx="1585.6" cy="601.2" r="3.8"/><circle cx="1585.4" cy="606.9" r="3.8"/><circle cx="1585.8" cy="610.4" r="3.8"/><circle cx="1585.9" cy="614.0" r="3.8"/><circle cx="1585.6" cy="618.3" r="3.8"/><circle cx="1586.0" cy="620.8" r="3.8"/><circle cx="1586.0" cy="623.3" r="3.8"/><circle cx="1585.4" cy="625.7" r="3.8"/><circle cx="1585.6" cy="627.7" r="3.8"/><circle cx="1585.7" cy="630.4" r="3.8"/><circle cx="1585.6" cy="632.0" r="3.8"/><circle cx="1585.5" cy="633.2" r="3.8"/><circle cx="1585.4" cy="635.2" r="3.8"/><circle cx="1585.5" cy="640.6" r="3.8"/><circle cx="1585.4" cy="642.8" r="3.8"/><circle cx="1585.4" cy="644.5" r="3.8"/><circle cx="1585.7" cy="646.3" r="3.8"/><circle cx="1585.7" cy="655.5" r="3.8"/><circle cx="1585.4" cy="658.4" r="3.8"/><circle cx="1585.4" cy="661.3" r="3.8"/><circle cx="1585.7" cy="664.0" r="3.8"/><circle cx="1585.7" cy="670.0" r="3.8"/><circle cx="1585.7" cy="717.3" r="3.8"/><circle cx="1672.7" cy="200.3" r="3.8"/><circle cx="1672.7" cy="217.3" r="3.8"/><circle cx="1672.7" cy="220.3" r="3.8"/><circle cx="1672.7" cy="227.3" r="3.8"/><circle cx="1672.7" cy="231.0" r="3.8"/><circle cx="1672.7" cy="244.5" r="3.8"/><circle cx="1672.7" cy="272.3" r="3.8"/><circle cx="1672.7" cy="274.8" r="3.8"/><circle cx="1672.7" cy="279.8" r="3.8"/><circle cx="1672.7" cy="283.5" r="3.8"/><circle cx="1672.7" cy="288.5" r="3.8"/><circle cx="1672.7" cy="293.5" r="3.8"/><circle cx="1672.5" cy="308.0" r="3.8"/><circle cx="1672.4" cy="312.3" r="3.8"/><circle cx="1672.6" cy="313.3" r="3.8"/><circle cx="1673.0" cy="314.6" r="3.8"/><circle cx="1672.7" cy="316.3" r="3.8"/><circle cx="1672.5" cy="318.1" r="3.8"/><circle cx="1672.9" cy="319.3" r="3.8"/><circle cx="1673.0" cy="322.6" r="3.8"/><circle cx="1672.7" cy="327.7" r="3.8"/><circle cx="1672.6" cy="331.4" r="3.8"/><circle cx="1672.5" cy="332.7" r="3.8"/><circle cx="1672.8" cy="334.1" r="3.8"/><circle cx="1672.7" cy="336.9" r="3.8"/><circle cx="1672.5" cy="341.6" r="3.8"/><circle cx="1673.0" cy="342.8" r="3.8"/><circle cx="1672.6" cy="346.4" r="3.8"/><circle cx="1672.7" cy="349.5" r="3.8"/><circle cx="1672.5" cy="350.4" r="3.8"/><circle cx="1672.5" cy="351.5" r="3.8"/><circle cx="1672.7" cy="352.6" r="3.8"/><circle cx="1672.9" cy="355.8" r="3.8"/><circle cx="1672.8" cy="357.5" r="3.8"/><circle cx="1672.5" cy="358.7" r="3.8"/><circle cx="1673.0" cy="360.4" r="3.8"/><circle cx="1672.9" cy="361.6" r="3.8"/><circle cx="1672.6" cy="365.5" r="3.8"/><circle cx="1673.0" cy="368.7" r="3.8"/><circle cx="1672.9" cy="372.2" r="3.8"/><circle cx="1672.6" cy="374.0" r="3.8"/><circle cx="1672.6" cy="378.5" r="3.8"/><circle cx="1672.7" cy="379.4" r="3.8"/><circle cx="1672.5" cy="381.5" r="3.8"/><circle cx="1673.0" cy="384.0" r="3.8"/><circle cx="1672.9" cy="385.0" r="3.8"/><circle cx="1672.4" cy="386.5" r="3.8"/><circle cx="1672.7" cy="389.2" r="3.8"/><circle cx="1672.9" cy="391.9" r="3.8"/><circle cx="1672.6" cy="395.5" r="3.8"/><circle cx="1672.5" cy="397.0" r="3.8"/><circle cx="1673.0" cy="397.8" r="3.8"/><circle cx="1672.4" cy="399.7" r="3.8"/><circle cx="1672.4" cy="402.2" r="3.8"/><circle cx="1672.8" cy="404.5" r="3.8"/><circle cx="1672.5" cy="407.7" r="3.8"/><circle cx="1673.0" cy="411.0" r="3.8"/><circle cx="1672.7" cy="412.1" r="3.8"/><circle cx="1672.4" cy="413.0" r="3.8"/><circle cx="1672.5" cy="416.4" r="3.8"/><circle cx="1672.7" cy="418.2" r="3.8"/><circle cx="1672.5" cy="420.2" r="3.8"/><circle cx="1672.5" cy="423.6" r="3.8"/><circle cx="1672.4" cy="428.4" r="3.8"/><circle cx="1672.4" cy="431.1" r="3.8"/><circle cx="1673.0" cy="432.3" r="3.8"/><circle cx="1672.9" cy="435.9" r="3.8"/><circle cx="1672.5" cy="438.5" r="3.8"/><circle cx="1672.5" cy="440.2" r="3.8"/><circle cx="1672.8" cy="444.8" r="3.8"/><circle cx="1672.6" cy="448.0" r="3.8"/><circle cx="1672.5" cy="449.7" r="3.8"/><circle cx="1672.5" cy="454.4" r="3.8"/><circle cx="1672.5" cy="455.3" r="3.8"/><circle cx="1672.6" cy="456.2" r="3.8"/><circle cx="1673.0" cy="457.8" r="3.8"/><circle cx="1672.5" cy="458.6" r="3.8"/><circle cx="1672.4" cy="460.2" r="3.8"/><circle cx="1672.4" cy="463.8" r="3.8"/><circle cx="1672.5" cy="466.3" r="3.8"/><circle cx="1673.0" cy="470.1" r="3.8"/><circle cx="1672.6" cy="474.1" r="3.8"/><circle cx="1672.4" cy="475.3" r="3.8"/><circle cx="1672.7" cy="476.8" r="3.8"/><circle cx="1673.0" cy="478.4" r="3.8"/><circle cx="1672.4" cy="484.4" r="3.8"/><circle cx="1672.5" cy="486.2" r="3.8"/><circle cx="1672.9" cy="488.3" r="3.8"/><circle cx="1672.4" cy="490.1" r="3.8"/><circle cx="1672.8" cy="491.3" r="3.8"/><circle cx="1672.9" cy="494.0" r="3.8"/><circle cx="1672.6" cy="498.6" r="3.8"/><circle cx="1672.5" cy="503.0" r="3.8"/><circle cx="1672.9" cy="504.3" r="3.8"/><circle cx="1672.7" cy="507.5" r="3.8"/><circle cx="1672.9" cy="509.9" r="3.8"/><circle cx="1672.9" cy="511.4" r="3.8"/><circle cx="1672.9" cy="517.1" r="3.8"/><circle cx="1672.9" cy="521.6" r="3.8"/><circle cx="1672.5" cy="528.5" r="3.8"/><circle cx="1672.8" cy="529.4" r="3.8"/><circle cx="1672.6" cy="530.5" r="3.8"/><circle cx="1672.6" cy="533.3" r="3.8"/><circle cx="1672.6" cy="534.5" r="3.8"/><circle cx="1672.6" cy="543.0" r="3.8"/><circle cx="1673.0" cy="544.4" r="3.8"/><circle cx="1672.8" cy="545.3" r="3.8"/><circle cx="1672.7" cy="549.5" r="3.8"/><circle cx="1672.8" cy="552.0" r="3.8"/><circle cx="1672.4" cy="554.9" r="3.8"/><circle cx="1672.4" cy="556.0" r="3.8"/><circle cx="1672.4" cy="557.5" r="3.8"/><circle cx="1672.6" cy="560.9" r="3.8"/><circle cx="1672.9" cy="563.0" r="3.8"/><circle cx="1672.6" cy="564.1" r="3.8"/><circle cx="1672.7" cy="568.2" r="3.8"/><circle cx="1672.9" cy="571.7" r="3.8"/><circle cx="1672.6" cy="574.6" r="3.8"/><circle cx="1672.5" cy="578.1" r="3.8"/><circle cx="1672.6" cy="581.5" r="3.8"/><circle cx="1672.5" cy="582.9" r="3.8"/><circle cx="1672.8" cy="584.3" r="3.8"/><circle cx="1672.7" cy="586.0" r="3.8"/><circle cx="1672.4" cy="591.4" r="3.8"/><circle cx="1673.0" cy="592.7" r="3.8"/><circle cx="1672.7" cy="594.9" r="3.8"/><circle cx="1672.5" cy="599.2" r="3.8"/><circle cx="1672.5" cy="604.9" r="3.8"/><circle cx="1672.4" cy="609.2" r="3.8"/><circle cx="1672.5" cy="610.8" r="3.8"/><circle cx="1672.6" cy="615.1" r="3.8"/><circle cx="1672.9" cy="616.6" r="3.8"/><circle cx="1672.5" cy="620.7" r="3.8"/><circle cx="1672.7" cy="622.2" r="3.8"/><circle cx="1672.4" cy="626.9" r="3.8"/><circle cx="1673.0" cy="629.9" r="3.8"/><circle cx="1672.6" cy="631.8" r="3.8"/><circle cx="1673.0" cy="636.4" r="3.8"/><circle cx="1673.0" cy="640.8" r="3.8"/><circle cx="1672.7" cy="647.0" r="3.8"/><circle cx="1672.7" cy="663.3" r="3.8"/><circle cx="1672.7" cy="673.3" r="3.8"/><circle cx="1672.7" cy="679.8" r="3.8"/><circle cx="1759.6" cy="158.5" r="3.8"/><circle cx="1759.6" cy="194.0" r="3.8"/><circle cx="1759.6" cy="219.3" r="3.8"/><circle cx="1759.6" cy="246.0" r="3.8"/><circle cx="1759.6" cy="259.3" r="3.8"/><circle cx="1759.6" cy="272.3" r="3.8"/><circle cx="1759.6" cy="276.0" r="3.8"/><circle cx="1759.6" cy="284.8" r="3.8"/><circle cx="1759.6" cy="289.8" r="3.8"/><circle cx="1759.6" cy="299.0" r="3.8"/><circle cx="1759.4" cy="309.8" r="3.8"/><circle cx="1759.3" cy="310.9" r="3.8"/><circle cx="1759.6" cy="311.8" r="3.8"/><circle cx="1759.3" cy="314.6" r="3.8"/><circle cx="1759.9" cy="319.5" r="3.8"/><circle cx="1759.3" cy="320.5" r="3.8"/><circle cx="1759.6" cy="321.4" r="3.8"/><circle cx="1759.4" cy="325.7" r="3.8"/><circle cx="1759.6" cy="328.9" r="3.8"/><circle cx="1759.5" cy="332.8" r="3.8"/><circle cx="1759.4" cy="335.4" r="3.8"/><circle cx="1759.7" cy="338.1" r="3.8"/><circle cx="1759.7" cy="338.9" r="3.8"/><circle cx="1759.5" cy="340.6" r="3.8"/><circle cx="1759.4" cy="344.7" r="3.8"/><circle cx="1759.9" cy="348.3" r="3.8"/><circle cx="1759.6" cy="350.0" r="3.8"/><circle cx="1759.9" cy="351.7" r="3.8"/><circle cx="1759.4" cy="353.2" r="3.8"/><circle cx="1759.7" cy="358.3" r="3.8"/><circle cx="1759.8" cy="359.3" r="3.8"/><circle cx="1759.8" cy="361.1" r="3.8"/><circle cx="1759.8" cy="364.4" r="3.8"/><circle cx="1759.9" cy="365.6" r="3.8"/><circle cx="1759.3" cy="367.4" r="3.8"/><circle cx="1759.4" cy="369.1" r="3.8"/><circle cx="1759.4" cy="370.1" r="3.8"/><circle cx="1759.6" cy="371.2" r="3.8"/><circle cx="1759.8" cy="374.4" r="3.8"/><circle cx="1759.7" cy="377.1" r="3.8"/><circle cx="1759.7" cy="378.3" r="3.8"/><circle cx="1759.3" cy="380.0" r="3.8"/><circle cx="1759.3" cy="380.8" r="3.8"/><circle cx="1759.7" cy="382.1" r="3.8"/><circle cx="1759.4" cy="385.9" r="3.8"/><circle cx="1759.7" cy="387.2" r="3.8"/><circle cx="1759.7" cy="393.4" r="3.8"/><circle cx="1759.6" cy="394.6" r="3.8"/><circle cx="1759.4" cy="397.7" r="3.8"/><circle cx="1759.4" cy="398.5" r="3.8"/><circle cx="1759.3" cy="401.0" r="3.8"/><circle cx="1759.9" cy="404.6" r="3.8"/><circle cx="1759.5" cy="407.3" r="3.8"/><circle cx="1759.5" cy="408.8" r="3.8"/><circle cx="1759.9" cy="410.3" r="3.8"/><circle cx="1759.7" cy="413.2" r="3.8"/><circle cx="1759.8" cy="414.5" r="3.8"/><circle cx="1759.3" cy="417.3" r="3.8"/><circle cx="1759.4" cy="419.1" r="3.8"/><circle cx="1759.5" cy="423.8" r="3.8"/><circle cx="1759.9" cy="425.0" r="3.8"/><circle cx="1759.7" cy="428.5" r="3.8"/><circle cx="1759.4" cy="429.7" r="3.8"/><circle cx="1759.6" cy="432.3" r="3.8"/><circle cx="1759.9" cy="435.7" r="3.8"/><circle cx="1759.5" cy="436.7" r="3.8"/><circle cx="1759.9" cy="440.9" r="3.8"/><circle cx="1759.7" cy="442.6" r="3.8"/><circle cx="1759.4" cy="443.8" r="3.8"/><circle cx="1759.6" cy="445.1" r="3.8"/><circle cx="1759.4" cy="450.0" r="3.8"/><circle cx="1759.8" cy="450.8" r="3.8"/><circle cx="1759.3" cy="453.1" r="3.8"/><circle cx="1759.9" cy="457.9" r="3.8"/><circle cx="1759.9" cy="463.6" r="3.8"/><circle cx="1759.7" cy="464.9" r="3.8"/><circle cx="1759.6" cy="467.1" r="3.8"/><circle cx="1759.4" cy="470.1" r="3.8"/><circle cx="1759.8" cy="473.3" r="3.8"/><circle cx="1759.9" cy="475.1" r="3.8"/><circle cx="1759.7" cy="476.8" r="3.8"/><circle cx="1759.7" cy="477.7" r="3.8"/><circle cx="1759.9" cy="483.2" r="3.8"/><circle cx="1759.6" cy="488.5" r="3.8"/><circle cx="1759.3" cy="490.2" r="3.8"/><circle cx="1759.4" cy="491.1" r="3.8"/><circle cx="1759.5" cy="492.3" r="3.8"/><circle cx="1759.8" cy="495.1" r="3.8"/><circle cx="1759.8" cy="498.8" r="3.8"/><circle cx="1759.6" cy="500.0" r="3.8"/><circle cx="1759.9" cy="501.1" r="3.8"/><circle cx="1759.3" cy="504.6" r="3.8"/><circle cx="1759.6" cy="505.6" r="3.8"/><circle cx="1759.8" cy="509.2" r="3.8"/><circle cx="1759.4" cy="510.5" r="3.8"/><circle cx="1759.4" cy="511.5" r="3.8"/><circle cx="1759.9" cy="513.1" r="3.8"/><circle cx="1759.9" cy="515.0" r="3.8"/><circle cx="1759.9" cy="517.4" r="3.8"/><circle cx="1759.7" cy="519.9" r="3.8"/><circle cx="1759.9" cy="522.3" r="3.8"/><circle cx="1759.8" cy="524.6" r="3.8"/><circle cx="1759.9" cy="526.5" r="3.8"/><circle cx="1759.6" cy="528.8" r="3.8"/><circle cx="1759.7" cy="531.7" r="3.8"/><circle cx="1759.6" cy="533.7" r="3.8"/><circle cx="1759.8" cy="534.9" r="3.8"/><circle cx="1759.8" cy="539.2" r="3.8"/><circle cx="1759.9" cy="540.1" r="3.8"/><circle cx="1759.5" cy="541.0" r="3.8"/><circle cx="1759.6" cy="542.9" r="3.8"/><circle cx="1759.4" cy="544.0" r="3.8"/><circle cx="1759.3" cy="545.3" r="3.8"/><circle cx="1759.4" cy="546.3" r="3.8"/><circle cx="1759.7" cy="547.8" r="3.8"/><circle cx="1759.3" cy="549.2" r="3.8"/><circle cx="1759.7" cy="553.4" r="3.8"/><circle cx="1759.9" cy="554.4" r="3.8"/><circle cx="1759.4" cy="555.4" r="3.8"/><circle cx="1759.5" cy="556.5" r="3.8"/><circle cx="1759.7" cy="558.4" r="3.8"/><circle cx="1759.3" cy="559.3" r="3.8"/><circle cx="1759.9" cy="564.1" r="3.8"/><circle cx="1759.4" cy="571.1" r="3.8"/><circle cx="1759.8" cy="572.2" r="3.8"/><circle cx="1759.3" cy="574.2" r="3.8"/><circle cx="1759.8" cy="575.9" r="3.8"/><circle cx="1759.7" cy="577.7" r="3.8"/><circle cx="1759.3" cy="578.7" r="3.8"/><circle cx="1759.3" cy="582.0" r="3.8"/><circle cx="1759.9" cy="587.1" r="3.8"/><circle cx="1759.3" cy="588.6" r="3.8"/><circle cx="1759.5" cy="592.3" r="3.8"/><circle cx="1759.7" cy="593.5" r="3.8"/><circle cx="1759.7" cy="596.9" r="3.8"/><circle cx="1759.7" cy="600.7" r="3.8"/><circle cx="1759.8" cy="602.8" r="3.8"/><circle cx="1759.4" cy="609.8" r="3.8"/><circle cx="1759.6" cy="614.7" r="3.8"/><circle cx="1759.9" cy="616.9" r="3.8"/><circle cx="1759.9" cy="619.5" r="3.8"/><circle cx="1759.4" cy="622.5" r="3.8"/><circle cx="1759.5" cy="625.4" r="3.8"/><circle cx="1759.9" cy="628.0" r="3.8"/><circle cx="1759.3" cy="630.3" r="3.8"/><circle cx="1759.7" cy="637.0" r="3.8"/><circle cx="1759.5" cy="640.2" r="3.8"/><circle cx="1759.5" cy="644.9" r="3.8"/><circle cx="1759.6" cy="650.3" r="3.8"/><circle cx="1759.6" cy="664.0" r="3.8"/><circle cx="1759.6" cy="740.8" r="3.8"/><circle cx="1845.3" cy="231.0" r="3.8"/><circle cx="1845.3" cy="298.5" r="3.8"/><circle cx="1845.3" cy="303.0" r="3.8"/><circle cx="1845.3" cy="308.5" r="3.8"/><circle cx="1845.3" cy="325.5" r="3.8"/><circle cx="1845.3" cy="330.0" r="3.8"/><circle cx="1845.3" cy="332.6" r="3.8"/><circle cx="1845.3" cy="336.7" r="3.8"/><circle cx="1845.3" cy="341.8" r="3.8"/><circle cx="1845.3" cy="344.1" r="3.8"/><circle cx="1845.3" cy="347.3" r="3.8"/><circle cx="1845.3" cy="351.3" r="3.8"/><circle cx="1845.3" cy="358.0" r="3.8"/><circle cx="1845.3" cy="361.4" r="3.8"/><circle cx="1845.3" cy="364.7" r="3.8"/><circle cx="1845.3" cy="366.8" r="3.8"/><circle cx="1845.3" cy="368.8" r="3.8"/><circle cx="1845.3" cy="370.2" r="3.8"/><circle cx="1845.3" cy="373.5" r="3.8"/><circle cx="1845.3" cy="375.4" r="3.8"/><circle cx="1845.3" cy="377.4" r="3.8"/><circle cx="1845.3" cy="381.4" r="3.8"/><circle cx="1845.3" cy="384.5" r="3.8"/><circle cx="1845.3" cy="387.4" r="3.8"/><circle cx="1845.3" cy="390.5" r="3.8"/><circle cx="1845.3" cy="393.5" r="3.8"/><circle cx="1845.3" cy="396.7" r="3.8"/><circle cx="1845.3" cy="398.9" r="3.8"/><circle cx="1845.3" cy="400.4" r="3.8"/><circle cx="1845.3" cy="401.9" r="3.8"/><circle cx="1845.3" cy="403.3" r="3.8"/><circle cx="1845.3" cy="405.7" r="3.8"/><circle cx="1845.3" cy="407.4" r="3.8"/><circle cx="1845.3" cy="409.0" r="3.8"/><circle cx="1845.3" cy="411.7" r="3.8"/><circle cx="1845.3" cy="415.7" r="3.8"/><circle cx="1845.3" cy="418.9" r="3.8"/><circle cx="1845.3" cy="421.0" r="3.8"/><circle cx="1845.3" cy="425.3" r="3.8"/><circle cx="1845.3" cy="427.6" r="3.8"/><circle cx="1845.3" cy="429.7" r="3.8"/><circle cx="1845.3" cy="432.4" r="3.8"/><circle cx="1845.3" cy="444.3" r="3.8"/><circle cx="1845.3" cy="454.0" r="3.8"/><circle cx="1845.3" cy="457.3" r="3.8"/><circle cx="1845.3" cy="460.0" r="3.8"/><circle cx="1845.3" cy="463.4" r="3.8"/><circle cx="1845.3" cy="465.1" r="3.8"/><circle cx="1845.3" cy="469.1" r="3.8"/><circle cx="1845.3" cy="471.5" r="3.8"/><circle cx="1845.3" cy="475.2" r="3.8"/><circle cx="1845.3" cy="476.7" r="3.8"/><circle cx="1845.3" cy="480.4" r="3.8"/><circle cx="1845.3" cy="482.4" r="3.8"/><circle cx="1845.3" cy="486.2" r="3.8"/><circle cx="1845.3" cy="489.9" r="3.8"/><circle cx="1845.3" cy="493.1" r="3.8"/><circle cx="1845.3" cy="495.3" r="3.8"/><circle cx="1845.3" cy="496.7" r="3.8"/><circle cx="1845.3" cy="498.7" r="3.8"/><circle cx="1845.3" cy="502.6" r="3.8"/><circle cx="1845.3" cy="504.5" r="3.8"/><circle cx="1845.3" cy="507.7" r="3.8"/><circle cx="1845.3" cy="510.7" r="3.8"/><circle cx="1845.3" cy="514.0" r="3.8"/><circle cx="1845.3" cy="515.9" r="3.8"/><circle cx="1845.3" cy="517.7" r="3.8"/><circle cx="1845.3" cy="519.4" r="3.8"/><circle cx="1845.3" cy="523.5" r="3.8"/><circle cx="1845.3" cy="526.0" r="3.8"/><circle cx="1845.3" cy="532.5" r="3.8"/><circle cx="1845.3" cy="535.9" r="3.8"/><circle cx="1845.3" cy="538.2" r="3.8"/><circle cx="1845.3" cy="540.0" r="3.8"/><circle cx="1845.3" cy="541.7" r="3.8"/><circle cx="1845.3" cy="546.0" r="3.8"/><circle cx="1845.3" cy="548.0" r="3.8"/><circle cx="1845.3" cy="552.7" r="3.8"/><circle cx="1845.3" cy="555.5" r="3.8"/><circle cx="1845.3" cy="567.0" r="3.8"/><circle cx="1845.3" cy="569.3" r="3.8"/><circle cx="1845.3" cy="573.9" r="3.8"/><circle cx="1845.3" cy="576.6" r="3.8"/><circle cx="1845.3" cy="579.8" r="3.8"/><circle cx="1845.3" cy="583.4" r="3.8"/><circle cx="1845.3" cy="585.6" r="3.8"/><circle cx="1845.3" cy="588.3" r="3.8"/><circle cx="1845.3" cy="613.5" r="3.8"/><circle cx="1845.3" cy="629.8" r="3.8"/><circle cx="1845.3" cy="673.5" r="3.8"/><circle cx="1932.3" cy="309.3" r="3.8"/><circle cx="1932.3" cy="494.3" r="3.8"/><circle cx="1932.3" cy="551.3" r="3.8"/>
</g>
<g fill="#000" stroke="none">
<path d="M289.2 464.5 l4.9 8.6 h-9.8 z"/><path d="M289.2 646.0 l4.9 8.6 h-9.8 z"/><path d="M381.8 550.7 l4.9 8.6 h-9.8 z"/><path d="M381.8 592.2 l4.9 8.6 h-9.8 z"/><path d="M381.8 605.7 l4.9 8.6 h-9.8 z"/><path d="M381.8 612.2 l4.9 8.6 h-9.8 z"/><path d="M381.8 619.7 l4.9 8.6 h-9.8 z"/><path d="M381.8 690.5 l4.9 8.6 h-9.8 z"/><path d="M475.0 501.7 l4.9 8.6 h-9.8 z"/><path d="M475.0 506.7 l4.9 8.6 h-9.8 z"/><path d="M475.0 570.7 l4.9 8.6 h-9.8 z"/><path d="M475.0 577.7 l4.9 8.6 h-9.8 z"/><path d="M475.0 585.7 l4.9 8.6 h-9.8 z"/><path d="M475.0 614.7 l4.9 8.6 h-9.8 z"/><path d="M475.0 655.7 l4.9 8.6 h-9.8 z"/><path d="M475.0 692.2 l4.9 8.6 h-9.8 z"/><path d="M475.0 697.2 l4.9 8.6 h-9.8 z"/><path d="M475.0 713.5 l4.9 8.6 h-9.8 z"/><path d="M567.5 345.7 l4.9 8.6 h-9.8 z"/><path d="M567.5 415.7 l4.9 8.6 h-9.8 z"/><path d="M567.5 491.7 l4.9 8.6 h-9.8 z"/><path d="M567.5 495.7 l4.9 8.6 h-9.8 z"/><path d="M567.5 516.7 l4.9 8.6 h-9.8 z"/><path d="M567.5 543.2 l4.9 8.6 h-9.8 z"/><path d="M567.4 557.7 l4.9 8.6 h-9.8 z"/><path d="M567.5 561.3 l4.9 8.6 h-9.8 z"/><path d="M567.6 565.0 l4.9 8.6 h-9.8 z"/><path d="M567.3 568.0 l4.9 8.6 h-9.8 z"/><path d="M567.7 569.4 l4.9 8.6 h-9.8 z"/><path d="M567.5 595.7 l4.9 8.6 h-9.8 z"/><path d="M567.5 613.5 l4.9 8.6 h-9.8 z"/><path d="M567.5 623.5 l4.9 8.6 h-9.8 z"/><path d="M567.6 626.7 l4.9 8.6 h-9.8 z"/><path d="M567.2 628.1 l4.9 8.6 h-9.8 z"/><path d="M567.6 629.1 l4.9 8.6 h-9.8 z"/><path d="M567.7 634.2 l4.9 8.6 h-9.8 z"/><path d="M567.2 636.1 l4.9 8.6 h-9.8 z"/><path d="M567.5 661.0 l4.9 8.6 h-9.8 z"/><path d="M567.5 702.7 l4.9 8.6 h-9.8 z"/><path d="M567.5 734.2 l4.9 8.6 h-9.8 z"/><path d="M567.5 822.2 l4.9 8.6 h-9.8 z"/><path d="M658.9 368.2 l4.9 8.6 h-9.8 z"/><path d="M658.9 387.5 l4.9 8.6 h-9.8 z"/><path d="M658.9 434.5 l4.9 8.6 h-9.8 z"/><path d="M659.2 441.7 l4.9 8.6 h-9.8 z"/><path d="M659.0 445.9 l4.9 8.6 h-9.8 z"/><path d="M658.7 449.2 l4.9 8.6 h-9.8 z"/><path d="M658.6 451.7 l4.9 8.6 h-9.8 z"/><path d="M658.6 453.3 l4.9 8.6 h-9.8 z"/><path d="M659.2 454.5 l4.9 8.6 h-9.8 z"/><path d="M659.2 457.5 l4.9 8.6 h-9.8 z"/><path d="M658.7 460.6 l4.9 8.6 h-9.8 z"/><path d="M658.7 463.1 l4.9 8.6 h-9.8 z"/><path d="M659.0 467.7 l4.9 8.6 h-9.8 z"/><path d="M658.8 471.2 l4.9 8.6 h-9.8 z"/><path d="M659.0 472.1 l4.9 8.6 h-9.8 z"/><path d="M658.7 473.0 l4.9 8.6 h-9.8 z"/><path d="M658.6 474.2 l4.9 8.6 h-9.8 z"/><path d="M658.6 475.1 l4.9 8.6 h-9.8 z"/><path d="M658.7 476.9 l4.9 8.6 h-9.8 z"/><path d="M658.6 480.9 l4.9 8.6 h-9.8 z"/><path d="M659.1 482.0 l4.9 8.6 h-9.8 z"/><path d="M658.9 483.8 l4.9 8.6 h-9.8 z"/><path d="M658.7 486.8 l4.9 8.6 h-9.8 z"/><path d="M658.8 489.4 l4.9 8.6 h-9.8 z"/><path d="M658.9 493.8 l4.9 8.6 h-9.8 z"/><path d="M658.6 494.7 l4.9 8.6 h-9.8 z"/><path d="M658.8 498.9 l4.9 8.6 h-9.8 z"/><path d="M658.7 500.0 l4.9 8.6 h-9.8 z"/><path d="M659.1 506.3 l4.9 8.6 h-9.8 z"/><path d="M659.2 508.0 l4.9 8.6 h-9.8 z"/><path d="M658.6 510.2 l4.9 8.6 h-9.8 z"/><path d="M659.1 512.0 l4.9 8.6 h-9.8 z"/><path d="M658.9 514.9 l4.9 8.6 h-9.8 z"/><path d="M659.2 517.1 l4.9 8.6 h-9.8 z"/><path d="M659.1 518.9 l4.9 8.6 h-9.8 z"/><path d="M658.8 520.0 l4.9 8.6 h-9.8 z"/><path d="M658.7 521.4 l4.9 8.6 h-9.8 z"/><path d="M659.2 522.3 l4.9 8.6 h-9.8 z"/><path d="M658.9 526.3 l4.9 8.6 h-9.8 z"/><path d="M658.7 527.6 l4.9 8.6 h-9.8 z"/><path d="M658.9 530.9 l4.9 8.6 h-9.8 z"/><path d="M658.9 533.1 l4.9 8.6 h-9.8 z"/><path d="M658.6 544.1 l4.9 8.6 h-9.8 z"/><path d="M658.6 545.4 l4.9 8.6 h-9.8 z"/><path d="M658.7 554.6 l4.9 8.6 h-9.8 z"/><path d="M658.8 556.0 l4.9 8.6 h-9.8 z"/><path d="M659.1 557.2 l4.9 8.6 h-9.8 z"/><path d="M658.9 558.7 l4.9 8.6 h-9.8 z"/><path d="M658.6 562.8 l4.9 8.6 h-9.8 z"/><path d="M659.1 563.7 l4.9 8.6 h-9.8 z"/><path d="M658.7 566.6 l4.9 8.6 h-9.8 z"/><path d="M659.1 572.7 l4.9 8.6 h-9.8 z"/><path d="M658.7 578.3 l4.9 8.6 h-9.8 z"/><path d="M658.7 580.0 l4.9 8.6 h-9.8 z"/><path d="M658.6 581.2 l4.9 8.6 h-9.8 z"/><path d="M658.9 584.1 l4.9 8.6 h-9.8 z"/><path d="M658.6 585.6 l4.9 8.6 h-9.8 z"/><path d="M659.1 589.3 l4.9 8.6 h-9.8 z"/><path d="M659.1 591.1 l4.9 8.6 h-9.8 z"/><path d="M658.8 597.0 l4.9 8.6 h-9.8 z"/><path d="M658.6 598.3 l4.9 8.6 h-9.8 z"/><path d="M658.7 600.8 l4.9 8.6 h-9.8 z"/><path d="M658.7 604.8 l4.9 8.6 h-9.8 z"/><path d="M658.9 606.8 l4.9 8.6 h-9.8 z"/><path d="M658.9 622.2 l4.9 8.6 h-9.8 z"/><path d="M658.8 624.1 l4.9 8.6 h-9.8 z"/><path d="M658.7 627.0 l4.9 8.6 h-9.8 z"/><path d="M658.6 628.3 l4.9 8.6 h-9.8 z"/><path d="M659.2 632.4 l4.9 8.6 h-9.8 z"/><path d="M659.2 633.5 l4.9 8.6 h-9.8 z"/><path d="M659.0 635.1 l4.9 8.6 h-9.8 z"/><path d="M659.1 638.4 l4.9 8.6 h-9.8 z"/><path d="M658.6 644.3 l4.9 8.6 h-9.8 z"/><path d="M658.9 648.6 l4.9 8.6 h-9.8 z"/><path d="M659.0 651.9 l4.9 8.6 h-9.8 z"/><path d="M658.7 653.8 l4.9 8.6 h-9.8 z"/><path d="M659.1 655.2 l4.9 8.6 h-9.8 z"/><path d="M658.9 674.2 l4.9 8.6 h-9.8 z"/><path d="M658.7 686.6 l4.9 8.6 h-9.8 z"/><path d="M658.6 689.0 l4.9 8.6 h-9.8 z"/><path d="M658.9 696.7 l4.9 8.6 h-9.8 z"/><path d="M659.2 697.8 l4.9 8.6 h-9.8 z"/><path d="M658.9 722.2 l4.9 8.6 h-9.8 z"/><path d="M658.9 787.2 l4.9 8.6 h-9.8 z"/><path d="M751.0 332.7 l4.9 8.6 h-9.8 z"/><path d="M751.0 353.7 l4.9 8.6 h-9.8 z"/><path d="M751.0 357.7 l4.9 8.6 h-9.8 z"/><path d="M751.0 365.7 l4.9 8.6 h-9.8 z"/><path d="M751.0 372.7 l4.9 8.6 h-9.8 z"/><path d="M751.0 393.7 l4.9 8.6 h-9.8 z"/><path d="M750.9 395.7 l4.9 8.6 h-9.8 z"/><path d="M750.9 398.1 l4.9 8.6 h-9.8 z"/><path d="M751.3 400.1 l4.9 8.6 h-9.8 z"/><path d="M751.0 401.2 l4.9 8.6 h-9.8 z"/><path d="M751.1 408.4 l4.9 8.6 h-9.8 z"/><path d="M751.3 409.3 l4.9 8.6 h-9.8 z"/><path d="M750.9 410.6 l4.9 8.6 h-9.8 z"/><path d="M751.3 412.2 l4.9 8.6 h-9.8 z"/><path d="M750.8 415.0 l4.9 8.6 h-9.8 z"/><path d="M750.7 418.3 l4.9 8.6 h-9.8 z"/><path d="M750.9 419.3 l4.9 8.6 h-9.8 z"/><path d="M751.2 422.1 l4.9 8.6 h-9.8 z"/><path d="M751.0 423.3 l4.9 8.6 h-9.8 z"/><path d="M750.7 424.5 l4.9 8.6 h-9.8 z"/><path d="M751.3 427.9 l4.9 8.6 h-9.8 z"/><path d="M750.8 429.0 l4.9 8.6 h-9.8 z"/><path d="M750.7 432.0 l4.9 8.6 h-9.8 z"/><path d="M750.7 435.0 l4.9 8.6 h-9.8 z"/><path d="M750.8 438.7 l4.9 8.6 h-9.8 z"/><path d="M751.2 444.0 l4.9 8.6 h-9.8 z"/><path d="M751.1 445.8 l4.9 8.6 h-9.8 z"/><path d="M750.7 448.3 l4.9 8.6 h-9.8 z"/><path d="M751.1 449.7 l4.9 8.6 h-9.8 z"/><path d="M751.1 450.7 l4.9 8.6 h-9.8 z"/><path d="M750.9 456.0 l4.9 8.6 h-9.8 z"/><path d="M751.1 457.4 l4.9 8.6 h-9.8 z"/><path d="M750.7 459.5 l4.9 8.6 h-9.8 z"/><path d="M751.1 460.8 l4.9 8.6 h-9.8 z"/><path d="M751.3 463.5 l4.9 8.6 h-9.8 z"/><path d="M750.8 465.2 l4.9 8.6 h-9.8 z"/><path d="M750.8 468.2 l4.9 8.6 h-9.8 z"/><path d="M750.9 470.4 l4.9 8.6 h-9.8 z"/><path d="M750.7 472.2 l4.9 8.6 h-9.8 z"/><path d="M750.9 476.7 l4.9 8.6 h-9.8 z"/><path d="M751.2 478.5 l4.9 8.6 h-9.8 z"/><path d="M750.9 480.0 l4.9 8.6 h-9.8 z"/><path d="M750.8 481.2 l4.9 8.6 h-9.8 z"/><path d="M751.3 483.3 l4.9 8.6 h-9.8 z"/><path d="M751.3 487.0 l4.9 8.6 h-9.8 z"/><path d="M751.3 488.2 l4.9 8.6 h-9.8 z"/><path d="M750.7 490.3 l4.9 8.6 h-9.8 z"/><path d="M750.9 493.8 l4.9 8.6 h-9.8 z"/><path d="M751.1 495.7 l4.9 8.6 h-9.8 z"/><path d="M750.9 497.3 l4.9 8.6 h-9.8 z"/><path d="M751.3 499.6 l4.9 8.6 h-9.8 z"/><path d="M750.9 502.5 l4.9 8.6 h-9.8 z"/><path d="M750.9 507.6 l4.9 8.6 h-9.8 z"/><path d="M750.7 509.3 l4.9 8.6 h-9.8 z"/><path d="M750.8 510.9 l4.9 8.6 h-9.8 z"/><path d="M751.0 511.8 l4.9 8.6 h-9.8 z"/><path d="M750.7 514.7 l4.9 8.6 h-9.8 z"/><path d="M751.1 516.1 l4.9 8.6 h-9.8 z"/><path d="M751.0 521.3 l4.9 8.6 h-9.8 z"/><path d="M750.8 523.0 l4.9 8.6 h-9.8 z"/><path d="M750.9 525.5 l4.9 8.6 h-9.8 z"/><path d="M751.0 527.4 l4.9 8.6 h-9.8 z"/><path d="M751.3 531.7 l4.9 8.6 h-9.8 z"/><path d="M750.7 532.9 l4.9 8.6 h-9.8 z"/><path d="M751.3 536.0 l4.9 8.6 h-9.8 z"/><path d="M750.9 539.2 l4.9 8.6 h-9.8 z"/><path d="M750.8 541.8 l4.9 8.6 h-9.8 z"/><path d="M751.1 543.0 l4.9 8.6 h-9.8 z"/><path d="M750.7 545.7 l4.9 8.6 h-9.8 z"/><path d="M750.8 549.3 l4.9 8.6 h-9.8 z"/><path d="M750.9 554.6 l4.9 8.6 h-9.8 z"/><path d="M750.8 556.3 l4.9 8.6 h-9.8 z"/><path d="M751.3 562.5 l4.9 8.6 h-9.8 z"/><path d="M751.3 569.4 l4.9 8.6 h-9.8 z"/><path d="M750.8 579.3 l4.9 8.6 h-9.8 z"/><path d="M751.0 580.9 l4.9 8.6 h-9.8 z"/><path d="M750.9 590.3 l4.9 8.6 h-9.8 z"/><path d="M751.0 594.3 l4.9 8.6 h-9.8 z"/><path d="M751.0 596.6 l4.9 8.6 h-9.8 z"/><path d="M751.0 600.8 l4.9 8.6 h-9.8 z"/><path d="M751.0 602.3 l4.9 8.6 h-9.8 z"/><path d="M751.0 604.5 l4.9 8.6 h-9.8 z"/><path d="M751.0 610.0 l4.9 8.6 h-9.8 z"/><path d="M751.0 627.2 l4.9 8.6 h-9.8 z"/><path d="M751.0 631.7 l4.9 8.6 h-9.8 z"/><path d="M751.0 645.2 l4.9 8.6 h-9.8 z"/><path d="M751.2 657.3 l4.9 8.6 h-9.8 z"/><path d="M750.7 662.7 l4.9 8.6 h-9.8 z"/><path d="M751.2 665.5 l4.9 8.6 h-9.8 z"/><path d="M751.3 666.8 l4.9 8.6 h-9.8 z"/><path d="M751.0 667.9 l4.9 8.6 h-9.8 z"/><path d="M750.8 668.8 l4.9 8.6 h-9.8 z"/><path d="M751.2 671.6 l4.9 8.6 h-9.8 z"/><path d="M751.1 673.0 l4.9 8.6 h-9.8 z"/><path d="M751.2 680.6 l4.9 8.6 h-9.8 z"/><path d="M751.2 681.8 l4.9 8.6 h-9.8 z"/><path d="M751.0 731.7 l4.9 8.6 h-9.8 z"/><path d="M845.0 528.7 l4.9 8.6 h-9.8 z"/><path d="M845.0 613.5 l4.9 8.6 h-9.8 z"/><path d="M1237.5 208.0 l4.9 8.6 h-9.8 z"/><path d="M1237.5 234.7 l4.9 8.6 h-9.8 z"/><path d="M1237.5 253.7 l4.9 8.6 h-9.8 z"/><path d="M1237.5 314.7 l4.9 8.6 h-9.8 z"/><path d="M1237.5 363.2 l4.9 8.6 h-9.8 z"/><path d="M1237.5 369.5 l4.9 8.6 h-9.8 z"/><path d="M1237.5 403.2 l4.9 8.6 h-9.8 z"/><path d="M1237.5 457.7 l4.9 8.6 h-9.8 z"/><path d="M1237.5 469.5 l4.9 8.6 h-9.8 z"/><path d="M1237.5 542.0 l4.9 8.6 h-9.8 z"/><path d="M1237.5 553.2 l4.9 8.6 h-9.8 z"/><path d="M1237.5 605.5 l4.9 8.6 h-9.8 z"/><path d="M1237.5 652.2 l4.9 8.6 h-9.8 z"/><path d="M1324.2 133.5 l4.9 8.6 h-9.8 z"/><path d="M1324.2 239.2 l4.9 8.6 h-9.8 z"/><path d="M1324.2 279.2 l4.9 8.6 h-9.8 z"/><path d="M1324.2 285.5 l4.9 8.6 h-9.8 z"/><path d="M1324.2 320.5 l4.9 8.6 h-9.8 z"/><path d="M1324.2 332.7 l4.9 8.6 h-9.8 z"/><path d="M1323.9 338.5 l4.9 8.6 h-9.8 z"/><path d="M1324.2 339.9 l4.9 8.6 h-9.8 z"/><path d="M1324.3 342.2 l4.9 8.6 h-9.8 z"/><path d="M1324.2 344.5 l4.9 8.6 h-9.8 z"/><path d="M1324.1 347.3 l4.9 8.6 h-9.8 z"/><path d="M1324.2 351.3 l4.9 8.6 h-9.8 z"/><path d="M1324.4 354.8 l4.9 8.6 h-9.8 z"/><path d="M1324.2 369.5 l4.9 8.6 h-9.8 z"/><path d="M1324.2 375.7 l4.9 8.6 h-9.8 z"/><path d="M1324.2 381.7 l4.9 8.6 h-9.8 z"/><path d="M1324.4 422.7 l4.9 8.6 h-9.8 z"/><path d="M1324.1 427.2 l4.9 8.6 h-9.8 z"/><path d="M1324.0 432.3 l4.9 8.6 h-9.8 z"/><path d="M1324.0 437.0 l4.9 8.6 h-9.8 z"/><path d="M1324.4 441.2 l4.9 8.6 h-9.8 z"/><path d="M1324.2 446.1 l4.9 8.6 h-9.8 z"/><path d="M1324.1 447.5 l4.9 8.6 h-9.8 z"/><path d="M1324.4 451.8 l4.9 8.6 h-9.8 z"/><path d="M1324.1 460.1 l4.9 8.6 h-9.8 z"/><path d="M1324.5 464.8 l4.9 8.6 h-9.8 z"/><path d="M1324.2 480.7 l4.9 8.6 h-9.8 z"/><path d="M1324.2 503.2 l4.9 8.6 h-9.8 z"/><path d="M1324.2 515.7 l4.9 8.6 h-9.8 z"/><path d="M1324.2 534.5 l4.9 8.6 h-9.8 z"/><path d="M1324.2 545.7 l4.9 8.6 h-9.8 z"/><path d="M1324.2 575.7 l4.9 8.6 h-9.8 z"/><path d="M1324.1 584.9 l4.9 8.6 h-9.8 z"/><path d="M1323.9 588.9 l4.9 8.6 h-9.8 z"/><path d="M1324.1 592.1 l4.9 8.6 h-9.8 z"/><path d="M1410.8 226.7 l4.9 8.6 h-9.8 z"/><path d="M1410.8 261.0 l4.9 8.6 h-9.8 z"/><path d="M1410.8 275.5 l4.9 8.6 h-9.8 z"/><path d="M1410.8 289.2 l4.9 8.6 h-9.8 z"/><path d="M1410.8 323.7 l4.9 8.6 h-9.8 z"/><path d="M1410.8 363.2 l4.9 8.6 h-9.8 z"/><path d="M1410.8 375.7 l4.9 8.6 h-9.8 z"/><path d="M1410.8 381.7 l4.9 8.6 h-9.8 z"/><path d="M1410.8 388.2 l4.9 8.6 h-9.8 z"/><path d="M1410.8 401.0 l4.9 8.6 h-9.8 z"/><path d="M1410.5 407.2 l4.9 8.6 h-9.8 z"/><path d="M1410.6 413.0 l4.9 8.6 h-9.8 z"/><path d="M1410.9 414.3 l4.9 8.6 h-9.8 z"/><path d="M1410.7 415.9 l4.9 8.6 h-9.8 z"/><path d="M1410.7 422.4 l4.9 8.6 h-9.8 z"/><path d="M1411.0 429.3 l4.9 8.6 h-9.8 z"/><path d="M1411.0 450.0 l4.9 8.6 h-9.8 z"/><path d="M1411.1 453.2 l4.9 8.6 h-9.8 z"/><path d="M1410.8 455.9 l4.9 8.6 h-9.8 z"/><path d="M1410.6 460.0 l4.9 8.6 h-9.8 z"/><path d="M1411.0 461.7 l4.9 8.6 h-9.8 z"/><path d="M1410.4 464.1 l4.9 8.6 h-9.8 z"/><path d="M1411.0 467.1 l4.9 8.6 h-9.8 z"/><path d="M1410.9 471.1 l4.9 8.6 h-9.8 z"/><path d="M1410.9 474.6 l4.9 8.6 h-9.8 z"/><path d="M1410.5 479.0 l4.9 8.6 h-9.8 z"/><path d="M1411.0 481.1 l4.9 8.6 h-9.8 z"/><path d="M1410.6 482.4 l4.9 8.6 h-9.8 z"/><path d="M1410.5 484.3 l4.9 8.6 h-9.8 z"/><path d="M1411.1 486.9 l4.9 8.6 h-9.8 z"/><path d="M1410.7 490.7 l4.9 8.6 h-9.8 z"/><path d="M1410.5 492.8 l4.9 8.6 h-9.8 z"/><path d="M1410.4 494.6 l4.9 8.6 h-9.8 z"/><path d="M1410.7 499.4 l4.9 8.6 h-9.8 z"/><path d="M1410.7 508.3 l4.9 8.6 h-9.8 z"/><path d="M1410.7 537.7 l4.9 8.6 h-9.8 z"/><path d="M1410.5 540.1 l4.9 8.6 h-9.8 z"/><path d="M1410.8 546.7 l4.9 8.6 h-9.8 z"/><path d="M1410.8 565.7 l4.9 8.6 h-9.8 z"/><path d="M1410.8 579.7 l4.9 8.6 h-9.8 z"/><path d="M1410.8 635.7 l4.9 8.6 h-9.8 z"/><path d="M1410.8 637.2 l4.9 8.6 h-9.8 z"/><path d="M1410.8 660.5 l4.9 8.6 h-9.8 z"/><path d="M1410.8 672.7 l4.9 8.6 h-9.8 z"/><path d="M1497.1 268.0 l4.9 8.6 h-9.8 z"/><path d="M1497.1 292.1 l4.9 8.6 h-9.8 z"/><path d="M1497.1 297.0 l4.9 8.6 h-9.8 z"/><path d="M1496.8 383.9 l4.9 8.6 h-9.8 z"/><path d="M1496.8 385.1 l4.9 8.6 h-9.8 z"/><path d="M1497.2 386.4 l4.9 8.6 h-9.8 z"/><path d="M1497.1 389.3 l4.9 8.6 h-9.8 z"/><path d="M1497.0 391.0 l4.9 8.6 h-9.8 z"/><path d="M1497.4 394.5 l4.9 8.6 h-9.8 z"/><path d="M1497.3 403.7 l4.9 8.6 h-9.8 z"/><path d="M1496.9 405.4 l4.9 8.6 h-9.8 z"/><path d="M1497.0 406.5 l4.9 8.6 h-9.8 z"/><path d="M1497.3 407.3 l4.9 8.6 h-9.8 z"/><path d="M1496.8 414.9 l4.9 8.6 h-9.8 z"/><path d="M1497.2 416.7 l4.9 8.6 h-9.8 z"/><path d="M1496.8 417.7 l4.9 8.6 h-9.8 z"/><path d="M1497.0 419.3 l4.9 8.6 h-9.8 z"/><path d="M1497.3 421.1 l4.9 8.6 h-9.8 z"/><path d="M1497.3 427.5 l4.9 8.6 h-9.8 z"/><path d="M1497.1 429.3 l4.9 8.6 h-9.8 z"/><path d="M1497.1 431.2 l4.9 8.6 h-9.8 z"/><path d="M1497.0 437.3 l4.9 8.6 h-9.8 z"/><path d="M1497.4 442.2 l4.9 8.6 h-9.8 z"/><path d="M1496.9 450.2 l4.9 8.6 h-9.8 z"/><path d="M1497.3 452.6 l4.9 8.6 h-9.8 z"/><path d="M1497.0 457.0 l4.9 8.6 h-9.8 z"/><path d="M1496.8 460.7 l4.9 8.6 h-9.8 z"/><path d="M1497.3 469.1 l4.9 8.6 h-9.8 z"/><path d="M1497.2 471.9 l4.9 8.6 h-9.8 z"/><path d="M1497.0 474.7 l4.9 8.6 h-9.8 z"/><path d="M1497.4 479.9 l4.9 8.6 h-9.8 z"/><path d="M1496.9 484.9 l4.9 8.6 h-9.8 z"/><path d="M1497.2 485.7 l4.9 8.6 h-9.8 z"/><path d="M1497.3 489.5 l4.9 8.6 h-9.8 z"/><path d="M1497.3 492.1 l4.9 8.6 h-9.8 z"/><path d="M1496.8 497.0 l4.9 8.6 h-9.8 z"/><path d="M1497.3 498.5 l4.9 8.6 h-9.8 z"/><path d="M1497.3 499.7 l4.9 8.6 h-9.8 z"/><path d="M1497.1 501.4 l4.9 8.6 h-9.8 z"/><path d="M1497.2 502.6 l4.9 8.6 h-9.8 z"/><path d="M1497.3 511.2 l4.9 8.6 h-9.8 z"/><path d="M1497.0 514.1 l4.9 8.6 h-9.8 z"/><path d="M1496.8 518.4 l4.9 8.6 h-9.8 z"/><path d="M1497.4 525.9 l4.9 8.6 h-9.8 z"/><path d="M1496.9 530.2 l4.9 8.6 h-9.8 z"/><path d="M1496.9 537.1 l4.9 8.6 h-9.8 z"/><path d="M1497.2 538.2 l4.9 8.6 h-9.8 z"/><path d="M1497.1 544.9 l4.9 8.6 h-9.8 z"/><path d="M1497.1 547.2 l4.9 8.6 h-9.8 z"/><path d="M1496.8 551.8 l4.9 8.6 h-9.8 z"/><path d="M1496.8 552.9 l4.9 8.6 h-9.8 z"/><path d="M1497.4 556.5 l4.9 8.6 h-9.8 z"/><path d="M1497.0 558.1 l4.9 8.6 h-9.8 z"/><path d="M1497.1 563.4 l4.9 8.6 h-9.8 z"/><path d="M1497.4 565.5 l4.9 8.6 h-9.8 z"/><path d="M1496.9 566.5 l4.9 8.6 h-9.8 z"/><path d="M1497.4 571.6 l4.9 8.6 h-9.8 z"/><path d="M1496.8 576.8 l4.9 8.6 h-9.8 z"/><path d="M1496.9 579.6 l4.9 8.6 h-9.8 z"/><path d="M1496.8 587.1 l4.9 8.6 h-9.8 z"/><path d="M1497.1 590.7 l4.9 8.6 h-9.8 z"/><path d="M1496.9 594.8 l4.9 8.6 h-9.8 z"/><path d="M1497.1 597.4 l4.9 8.6 h-9.8 z"/><path d="M1496.9 600.3 l4.9 8.6 h-9.8 z"/><path d="M1497.4 606.2 l4.9 8.6 h-9.8 z"/><path d="M1497.1 631.5 l4.9 8.6 h-9.8 z"/><path d="M1497.1 646.0 l4.9 8.6 h-9.8 z"/><path d="M1497.1 660.2 l4.9 8.6 h-9.8 z"/><path d="M1585.7 288.7 l4.9 8.6 h-9.8 z"/><path d="M1585.5 295.4 l4.9 8.6 h-9.8 z"/><path d="M1585.4 298.4 l4.9 8.6 h-9.8 z"/><path d="M1586.0 301.3 l4.9 8.6 h-9.8 z"/><path d="M1585.6 302.9 l4.9 8.6 h-9.8 z"/><path d="M1585.7 305.8 l4.9 8.6 h-9.8 z"/><path d="M1585.4 307.8 l4.9 8.6 h-9.8 z"/><path d="M1585.7 309.3 l4.9 8.6 h-9.8 z"/><path d="M1585.8 312.0 l4.9 8.6 h-9.8 z"/><path d="M1585.9 312.9 l4.9 8.6 h-9.8 z"/><path d="M1586.0 318.3 l4.9 8.6 h-9.8 z"/><path d="M1585.9 319.4 l4.9 8.6 h-9.8 z"/><path d="M1585.7 321.2 l4.9 8.6 h-9.8 z"/><path d="M1586.0 324.4 l4.9 8.6 h-9.8 z"/><path d="M1585.5 332.4 l4.9 8.6 h-9.8 z"/><path d="M1585.9 334.1 l4.9 8.6 h-9.8 z"/><path d="M1585.7 341.3 l4.9 8.6 h-9.8 z"/><path d="M1585.8 345.7 l4.9 8.6 h-9.8 z"/><path d="M1585.8 347.9 l4.9 8.6 h-9.8 z"/><path d="M1585.9 349.7 l4.9 8.6 h-9.8 z"/><path d="M1585.4 351.7 l4.9 8.6 h-9.8 z"/><path d="M1585.6 358.9 l4.9 8.6 h-9.8 z"/><path d="M1586.0 365.3 l4.9 8.6 h-9.8 z"/><path d="M1585.8 366.6 l4.9 8.6 h-9.8 z"/><path d="M1585.4 367.9 l4.9 8.6 h-9.8 z"/><path d="M1585.4 369.3 l4.9 8.6 h-9.8 z"/><path d="M1585.8 375.5 l4.9 8.6 h-9.8 z"/><path d="M1585.7 378.0 l4.9 8.6 h-9.8 z"/><path d="M1585.6 379.8 l4.9 8.6 h-9.8 z"/><path d="M1585.7 383.2 l4.9 8.6 h-9.8 z"/><path d="M1585.7 384.5 l4.9 8.6 h-9.8 z"/><path d="M1585.4 385.4 l4.9 8.6 h-9.8 z"/><path d="M1585.6 386.7 l4.9 8.6 h-9.8 z"/><path d="M1585.5 392.6 l4.9 8.6 h-9.8 z"/><path d="M1586.0 397.0 l4.9 8.6 h-9.8 z"/><path d="M1585.5 398.7 l4.9 8.6 h-9.8 z"/><path d="M1585.7 400.4 l4.9 8.6 h-9.8 z"/><path d="M1585.5 404.2 l4.9 8.6 h-9.8 z"/><path d="M1585.9 418.0 l4.9 8.6 h-9.8 z"/><path d="M1585.7 419.2 l4.9 8.6 h-9.8 z"/><path d="M1585.7 421.7 l4.9 8.6 h-9.8 z"/><path d="M1585.5 427.3 l4.9 8.6 h-9.8 z"/><path d="M1585.4 429.1 l4.9 8.6 h-9.8 z"/><path d="M1585.4 437.4 l4.9 8.6 h-9.8 z"/><path d="M1585.7 445.5 l4.9 8.6 h-9.8 z"/><path d="M1586.0 449.2 l4.9 8.6 h-9.8 z"/><path d="M1585.5 451.5 l4.9 8.6 h-9.8 z"/><path d="M1585.8 453.0 l4.9 8.6 h-9.8 z"/><path d="M1585.8 454.9 l4.9 8.6 h-9.8 z"/><path d="M1585.9 456.1 l4.9 8.6 h-9.8 z"/><path d="M1585.4 457.7 l4.9 8.6 h-9.8 z"/><path d="M1585.8 463.4 l4.9 8.6 h-9.8 z"/><path d="M1585.4 465.3 l4.9 8.6 h-9.8 z"/><path d="M1585.4 468.3 l4.9 8.6 h-9.8 z"/><path d="M1585.5 471.2 l4.9 8.6 h-9.8 z"/><path d="M1585.7 473.3 l4.9 8.6 h-9.8 z"/><path d="M1585.9 485.8 l4.9 8.6 h-9.8 z"/><path d="M1585.6 486.8 l4.9 8.6 h-9.8 z"/><path d="M1585.7 489.6 l4.9 8.6 h-9.8 z"/><path d="M1585.4 490.8 l4.9 8.6 h-9.8 z"/><path d="M1585.6 492.5 l4.9 8.6 h-9.8 z"/><path d="M1585.5 493.6 l4.9 8.6 h-9.8 z"/><path d="M1585.8 494.4 l4.9 8.6 h-9.8 z"/><path d="M1585.8 495.4 l4.9 8.6 h-9.8 z"/><path d="M1585.9 496.5 l4.9 8.6 h-9.8 z"/><path d="M1586.0 500.0 l4.9 8.6 h-9.8 z"/><path d="M1585.7 501.8 l4.9 8.6 h-9.8 z"/><path d="M1586.0 506.4 l4.9 8.6 h-9.8 z"/><path d="M1585.7 507.8 l4.9 8.6 h-9.8 z"/><path d="M1585.6 510.9 l4.9 8.6 h-9.8 z"/><path d="M1585.8 512.9 l4.9 8.6 h-9.8 z"/><path d="M1585.4 515.5 l4.9 8.6 h-9.8 z"/><path d="M1585.5 520.3 l4.9 8.6 h-9.8 z"/><path d="M1585.8 521.8 l4.9 8.6 h-9.8 z"/><path d="M1585.9 524.1 l4.9 8.6 h-9.8 z"/><path d="M1585.5 525.6 l4.9 8.6 h-9.8 z"/><path d="M1585.4 528.3 l4.9 8.6 h-9.8 z"/><path d="M1585.6 529.3 l4.9 8.6 h-9.8 z"/><path d="M1585.5 532.8 l4.9 8.6 h-9.8 z"/><path d="M1585.6 534.3 l4.9 8.6 h-9.8 z"/><path d="M1585.9 536.1 l4.9 8.6 h-9.8 z"/><path d="M1585.5 537.8 l4.9 8.6 h-9.8 z"/><path d="M1585.9 550.0 l4.9 8.6 h-9.8 z"/><path d="M1585.9 551.7 l4.9 8.6 h-9.8 z"/><path d="M1585.5 554.5 l4.9 8.6 h-9.8 z"/><path d="M1585.6 555.8 l4.9 8.6 h-9.8 z"/><path d="M1585.5 558.6 l4.9 8.6 h-9.8 z"/><path d="M1585.7 562.2 l4.9 8.6 h-9.8 z"/><path d="M1585.6 567.5 l4.9 8.6 h-9.8 z"/><path d="M1585.4 568.6 l4.9 8.6 h-9.8 z"/><path d="M1585.8 569.6 l4.9 8.6 h-9.8 z"/><path d="M1585.5 571.9 l4.9 8.6 h-9.8 z"/><path d="M1585.5 580.5 l4.9 8.6 h-9.8 z"/><path d="M1586.0 584.6 l4.9 8.6 h-9.8 z"/><path d="M1585.9 590.6 l4.9 8.6 h-9.8 z"/><path d="M1585.8 598.0 l4.9 8.6 h-9.8 z"/><path d="M1586.0 599.6 l4.9 8.6 h-9.8 z"/><path d="M1585.7 600.6 l4.9 8.6 h-9.8 z"/><path d="M1585.9 604.7 l4.9 8.6 h-9.8 z"/><path d="M1585.6 607.7 l4.9 8.6 h-9.8 z"/><path d="M1585.6 611.0 l4.9 8.6 h-9.8 z"/><path d="M1585.6 612.8 l4.9 8.6 h-9.8 z"/><path d="M1585.8 632.7 l4.9 8.6 h-9.8 z"/><path d="M1585.7 634.8 l4.9 8.6 h-9.8 z"/><path d="M1585.8 643.7 l4.9 8.6 h-9.8 z"/><path d="M1585.8 646.0 l4.9 8.6 h-9.8 z"/><path d="M1585.4 648.2 l4.9 8.6 h-9.8 z"/><path d="M1585.7 673.5 l4.9 8.6 h-9.8 z"/><path d="M1585.7 682.2 l4.9 8.6 h-9.8 z"/><path d="M1585.7 733.5 l4.9 8.6 h-9.8 z"/><path d="M1672.7 294.7 l4.9 8.6 h-9.8 z"/><path d="M1672.9 305.1 l4.9 8.6 h-9.8 z"/><path d="M1672.4 306.8 l4.9 8.6 h-9.8 z"/><path d="M1672.4 316.7 l4.9 8.6 h-9.8 z"/><path d="M1672.8 319.1 l4.9 8.6 h-9.8 z"/><path d="M1672.9 320.5 l4.9 8.6 h-9.8 z"/><path d="M1672.8 322.3 l4.9 8.6 h-9.8 z"/><path d="M1672.4 324.8 l4.9 8.6 h-9.8 z"/><path d="M1672.9 325.7 l4.9 8.6 h-9.8 z"/><path d="M1672.4 331.6 l4.9 8.6 h-9.8 z"/><path d="M1672.4 334.2 l4.9 8.6 h-9.8 z"/><path d="M1672.8 335.9 l4.9 8.6 h-9.8 z"/><path d="M1672.6 339.4 l4.9 8.6 h-9.8 z"/><path d="M1672.8 341.2 l4.9 8.6 h-9.8 z"/><path d="M1672.6 343.6 l4.9 8.6 h-9.8 z"/><path d="M1672.8 344.4 l4.9 8.6 h-9.8 z"/><path d="M1673.0 350.1 l4.9 8.6 h-9.8 z"/><path d="M1672.8 358.6 l4.9 8.6 h-9.8 z"/><path d="M1672.6 360.1 l4.9 8.6 h-9.8 z"/><path d="M1672.6 362.6 l4.9 8.6 h-9.8 z"/><path d="M1672.6 363.6 l4.9 8.6 h-9.8 z"/><path d="M1672.7 365.7 l4.9 8.6 h-9.8 z"/><path d="M1672.4 366.7 l4.9 8.6 h-9.8 z"/><path d="M1672.4 371.1 l4.9 8.6 h-9.8 z"/><path d="M1673.0 372.6 l4.9 8.6 h-9.8 z"/><path d="M1672.5 376.2 l4.9 8.6 h-9.8 z"/><path d="M1672.6 378.2 l4.9 8.6 h-9.8 z"/><path d="M1672.6 383.9 l4.9 8.6 h-9.8 z"/><path d="M1673.0 386.4 l4.9 8.6 h-9.8 z"/><path d="M1672.8 388.9 l4.9 8.6 h-9.8 z"/><path d="M1672.6 389.7 l4.9 8.6 h-9.8 z"/><path d="M1672.6 397.0 l4.9 8.6 h-9.8 z"/><path d="M1672.9 398.8 l4.9 8.6 h-9.8 z"/><path d="M1672.8 401.8 l4.9 8.6 h-9.8 z"/><path d="M1672.9 405.0 l4.9 8.6 h-9.8 z"/><path d="M1672.9 410.2 l4.9 8.6 h-9.8 z"/><path d="M1672.4 413.0 l4.9 8.6 h-9.8 z"/><path d="M1673.0 414.9 l4.9 8.6 h-9.8 z"/><path d="M1672.5 417.7 l4.9 8.6 h-9.8 z"/><path d="M1672.8 420.7 l4.9 8.6 h-9.8 z"/><path d="M1672.7 422.3 l4.9 8.6 h-9.8 z"/><path d="M1672.8 425.0 l4.9 8.6 h-9.8 z"/><path d="M1672.5 429.5 l4.9 8.6 h-9.8 z"/><path d="M1672.7 430.6 l4.9 8.6 h-9.8 z"/><path d="M1673.0 432.8 l4.9 8.6 h-9.8 z"/><path d="M1672.5 437.6 l4.9 8.6 h-9.8 z"/><path d="M1673.0 439.0 l4.9 8.6 h-9.8 z"/><path d="M1673.0 441.9 l4.9 8.6 h-9.8 z"/><path d="M1672.6 447.3 l4.9 8.6 h-9.8 z"/><path d="M1673.0 448.3 l4.9 8.6 h-9.8 z"/><path d="M1672.7 456.9 l4.9 8.6 h-9.8 z"/><path d="M1673.0 457.8 l4.9 8.6 h-9.8 z"/><path d="M1672.6 460.5 l4.9 8.6 h-9.8 z"/><path d="M1672.4 463.4 l4.9 8.6 h-9.8 z"/><path d="M1673.0 464.7 l4.9 8.6 h-9.8 z"/><path d="M1672.5 467.4 l4.9 8.6 h-9.8 z"/><path d="M1672.4 468.5 l4.9 8.6 h-9.8 z"/><path d="M1672.6 475.7 l4.9 8.6 h-9.8 z"/><path d="M1673.0 476.9 l4.9 8.6 h-9.8 z"/><path d="M1672.6 478.2 l4.9 8.6 h-9.8 z"/><path d="M1672.5 483.1 l4.9 8.6 h-9.8 z"/><path d="M1673.0 488.1 l4.9 8.6 h-9.8 z"/><path d="M1673.0 491.2 l4.9 8.6 h-9.8 z"/><path d="M1672.9 492.7 l4.9 8.6 h-9.8 z"/><path d="M1672.8 495.7 l4.9 8.6 h-9.8 z"/><path d="M1672.7 497.2 l4.9 8.6 h-9.8 z"/><path d="M1672.5 501.4 l4.9 8.6 h-9.8 z"/><path d="M1672.9 504.6 l4.9 8.6 h-9.8 z"/><path d="M1672.4 508.8 l4.9 8.6 h-9.8 z"/><path d="M1672.9 510.6 l4.9 8.6 h-9.8 z"/><path d="M1672.5 511.5 l4.9 8.6 h-9.8 z"/><path d="M1672.4 514.1 l4.9 8.6 h-9.8 z"/><path d="M1672.8 516.0 l4.9 8.6 h-9.8 z"/><path d="M1672.8 518.3 l4.9 8.6 h-9.8 z"/><path d="M1672.5 519.7 l4.9 8.6 h-9.8 z"/><path d="M1672.6 520.9 l4.9 8.6 h-9.8 z"/><path d="M1672.7 522.0 l4.9 8.6 h-9.8 z"/><path d="M1672.9 523.0 l4.9 8.6 h-9.8 z"/><path d="M1672.6 527.7 l4.9 8.6 h-9.8 z"/><path d="M1672.6 531.9 l4.9 8.6 h-9.8 z"/><path d="M1673.0 533.4 l4.9 8.6 h-9.8 z"/><path d="M1672.8 535.3 l4.9 8.6 h-9.8 z"/><path d="M1672.6 536.9 l4.9 8.6 h-9.8 z"/><path d="M1672.9 542.3 l4.9 8.6 h-9.8 z"/><path d="M1673.0 543.8 l4.9 8.6 h-9.8 z"/><path d="M1672.9 546.8 l4.9 8.6 h-9.8 z"/><path d="M1672.9 549.5 l4.9 8.6 h-9.8 z"/><path d="M1672.7 554.9 l4.9 8.6 h-9.8 z"/><path d="M1673.0 560.7 l4.9 8.6 h-9.8 z"/><path d="M1672.6 562.0 l4.9 8.6 h-9.8 z"/><path d="M1672.4 565.4 l4.9 8.6 h-9.8 z"/><path d="M1672.5 568.7 l4.9 8.6 h-9.8 z"/><path d="M1672.8 571.8 l4.9 8.6 h-9.8 z"/><path d="M1672.4 575.5 l4.9 8.6 h-9.8 z"/><path d="M1673.0 583.3 l4.9 8.6 h-9.8 z"/><path d="M1672.8 584.9 l4.9 8.6 h-9.8 z"/><path d="M1672.6 592.6 l4.9 8.6 h-9.8 z"/><path d="M1672.4 596.2 l4.9 8.6 h-9.8 z"/><path d="M1673.0 598.5 l4.9 8.6 h-9.8 z"/><path d="M1672.5 602.7 l4.9 8.6 h-9.8 z"/><path d="M1672.7 608.2 l4.9 8.6 h-9.8 z"/><path d="M1672.4 614.1 l4.9 8.6 h-9.8 z"/><path d="M1672.8 619.9 l4.9 8.6 h-9.8 z"/><path d="M1673.0 629.8 l4.9 8.6 h-9.8 z"/><path d="M1672.4 634.5 l4.9 8.6 h-9.8 z"/><path d="M1673.0 638.4 l4.9 8.6 h-9.8 z"/><path d="M1673.0 641.1 l4.9 8.6 h-9.8 z"/><path d="M1672.7 699.2 l4.9 8.6 h-9.8 z"/><path d="M1672.7 758.5 l4.9 8.6 h-9.8 z"/><path d="M1759.6 236.2 l4.9 8.6 h-9.8 z"/><path d="M1759.7 302.7 l4.9 8.6 h-9.8 z"/><path d="M1759.6 303.9 l4.9 8.6 h-9.8 z"/><path d="M1759.6 309.0 l4.9 8.6 h-9.8 z"/><path d="M1759.7 311.3 l4.9 8.6 h-9.8 z"/><path d="M1759.7 312.5 l4.9 8.6 h-9.8 z"/><path d="M1759.9 313.5 l4.9 8.6 h-9.8 z"/><path d="M1759.6 318.1 l4.9 8.6 h-9.8 z"/><path d="M1759.6 319.5 l4.9 8.6 h-9.8 z"/><path d="M1759.5 320.5 l4.9 8.6 h-9.8 z"/><path d="M1759.9 322.8 l4.9 8.6 h-9.8 z"/><path d="M1759.7 326.0 l4.9 8.6 h-9.8 z"/><path d="M1759.4 327.7 l4.9 8.6 h-9.8 z"/><path d="M1759.9 329.6 l4.9 8.6 h-9.8 z"/><path d="M1759.7 332.7 l4.9 8.6 h-9.8 z"/><path d="M1759.9 337.6 l4.9 8.6 h-9.8 z"/><path d="M1759.5 339.5 l4.9 8.6 h-9.8 z"/><path d="M1759.4 341.9 l4.9 8.6 h-9.8 z"/><path d="M1759.4 342.9 l4.9 8.6 h-9.8 z"/><path d="M1759.8 350.6 l4.9 8.6 h-9.8 z"/><path d="M1759.5 352.2 l4.9 8.6 h-9.8 z"/><path d="M1759.7 358.4 l4.9 8.6 h-9.8 z"/><path d="M1759.7 368.4 l4.9 8.6 h-9.8 z"/><path d="M1759.8 371.9 l4.9 8.6 h-9.8 z"/><path d="M1759.4 378.9 l4.9 8.6 h-9.8 z"/><path d="M1759.7 380.7 l4.9 8.6 h-9.8 z"/><path d="M1759.7 383.8 l4.9 8.6 h-9.8 z"/><path d="M1759.4 385.5 l4.9 8.6 h-9.8 z"/><path d="M1759.5 387.3 l4.9 8.6 h-9.8 z"/><path d="M1759.9 391.7 l4.9 8.6 h-9.8 z"/><path d="M1759.8 395.5 l4.9 8.6 h-9.8 z"/><path d="M1759.6 398.4 l4.9 8.6 h-9.8 z"/><path d="M1759.7 401.2 l4.9 8.6 h-9.8 z"/><path d="M1759.9 407.2 l4.9 8.6 h-9.8 z"/><path d="M1759.8 411.8 l4.9 8.6 h-9.8 z"/><path d="M1759.3 416.2 l4.9 8.6 h-9.8 z"/><path d="M1759.7 417.8 l4.9 8.6 h-9.8 z"/><path d="M1759.7 422.4 l4.9 8.6 h-9.8 z"/><path d="M1759.8 427.1 l4.9 8.6 h-9.8 z"/><path d="M1759.8 429.0 l4.9 8.6 h-9.8 z"/><path d="M1759.3 430.2 l4.9 8.6 h-9.8 z"/><path d="M1759.5 433.4 l4.9 8.6 h-9.8 z"/><path d="M1759.4 434.3 l4.9 8.6 h-9.8 z"/><path d="M1759.9 435.6 l4.9 8.6 h-9.8 z"/><path d="M1759.4 442.4 l4.9 8.6 h-9.8 z"/><path d="M1759.6 444.2 l4.9 8.6 h-9.8 z"/><path d="M1759.9 447.7 l4.9 8.6 h-9.8 z"/><path d="M1759.7 450.4 l4.9 8.6 h-9.8 z"/><path d="M1759.3 452.1 l4.9 8.6 h-9.8 z"/><path d="M1759.8 455.2 l4.9 8.6 h-9.8 z"/><path d="M1759.8 457.0 l4.9 8.6 h-9.8 z"/><path d="M1759.8 458.2 l4.9 8.6 h-9.8 z"/><path d="M1759.5 461.6 l4.9 8.6 h-9.8 z"/><path d="M1759.7 464.4 l4.9 8.6 h-9.8 z"/><path d="M1759.8 467.5 l4.9 8.6 h-9.8 z"/><path d="M1759.4 474.9 l4.9 8.6 h-9.8 z"/><path d="M1759.8 476.4 l4.9 8.6 h-9.8 z"/><path d="M1759.4 477.4 l4.9 8.6 h-9.8 z"/><path d="M1759.7 480.1 l4.9 8.6 h-9.8 z"/><path d="M1759.5 481.8 l4.9 8.6 h-9.8 z"/><path d="M1759.3 483.3 l4.9 8.6 h-9.8 z"/><path d="M1759.8 489.0 l4.9 8.6 h-9.8 z"/><path d="M1759.8 491.6 l4.9 8.6 h-9.8 z"/><path d="M1759.5 493.0 l4.9 8.6 h-9.8 z"/><path d="M1759.9 498.4 l4.9 8.6 h-9.8 z"/><path d="M1759.6 502.9 l4.9 8.6 h-9.8 z"/><path d="M1759.5 503.9 l4.9 8.6 h-9.8 z"/><path d="M1759.3 512.3 l4.9 8.6 h-9.8 z"/><path d="M1759.4 514.6 l4.9 8.6 h-9.8 z"/><path d="M1759.3 516.8 l4.9 8.6 h-9.8 z"/><path d="M1759.3 519.3 l4.9 8.6 h-9.8 z"/><path d="M1759.8 523.6 l4.9 8.6 h-9.8 z"/><path d="M1759.4 525.6 l4.9 8.6 h-9.8 z"/><path d="M1759.3 531.6 l4.9 8.6 h-9.8 z"/><path d="M1759.5 533.1 l4.9 8.6 h-9.8 z"/><path d="M1759.6 545.8 l4.9 8.6 h-9.8 z"/><path d="M1759.7 547.4 l4.9 8.6 h-9.8 z"/><path d="M1759.3 556.9 l4.9 8.6 h-9.8 z"/><path d="M1759.9 558.1 l4.9 8.6 h-9.8 z"/><path d="M1759.4 561.8 l4.9 8.6 h-9.8 z"/><path d="M1759.8 562.7 l4.9 8.6 h-9.8 z"/><path d="M1759.7 564.9 l4.9 8.6 h-9.8 z"/><path d="M1759.5 575.8 l4.9 8.6 h-9.8 z"/><path d="M1759.6 579.8 l4.9 8.6 h-9.8 z"/><path d="M1759.4 581.6 l4.9 8.6 h-9.8 z"/><path d="M1759.8 586.4 l4.9 8.6 h-9.8 z"/><path d="M1759.3 591.4 l4.9 8.6 h-9.8 z"/><path d="M1759.6 594.4 l4.9 8.6 h-9.8 z"/><path d="M1759.8 600.9 l4.9 8.6 h-9.8 z"/><path d="M1759.8 603.0 l4.9 8.6 h-9.8 z"/><path d="M1759.7 607.4 l4.9 8.6 h-9.8 z"/><path d="M1759.5 609.0 l4.9 8.6 h-9.8 z"/><path d="M1759.4 616.9 l4.9 8.6 h-9.8 z"/><path d="M1759.7 627.9 l4.9 8.6 h-9.8 z"/><path d="M1759.9 630.3 l4.9 8.6 h-9.8 z"/><path d="M1759.9 638.7 l4.9 8.6 h-9.8 z"/><path d="M1759.6 654.7 l4.9 8.6 h-9.8 z"/><path d="M1759.6 664.7 l4.9 8.6 h-9.8 z"/>
</g>
<g class="ax">
<path stroke-width="2.5" d="M194.9 96.2 V852.3"/>
<path stroke-width="2.3" d="M186.0 841.1 H1033.2"/>
<path stroke-width="2.5" d="M185.8 143.7 H194.9 M185.8 243.3 H194.9 M185.8 342.9 H194.9 M185.8 442.5 H194.9 M185.8 542.1 H194.9 M185.8 641.7 H194.9 M185.8 741.3 H194.9 M190.3 193.5 H194.9 M190.3 293.1 H194.9 M190.3 392.7 H194.9 M190.3 492.3 H194.9 M190.3 591.9 H194.9 M190.3 691.5 H194.9 M190.3 791.1 H194.9 M288.0 841.1 V852.3 M381.0 841.1 V852.3 M474.0 841.1 V852.3 M567.0 841.1 V852.3 M660.0 841.1 V852.3 M753.0 841.1 V852.3 M846.0 841.1 V852.3 M939.0 841.1 V852.3 M1032.0 841.1 V852.3 M241.5 841.1 V846.8 M334.5 841.1 V846.8 M427.5 841.1 V846.8 M520.5 841.1 V846.8 M613.5 841.1 V846.8 M706.5 841.1 V846.8 M799.5 841.1 V846.8 M892.5 841.1 V846.8 M985.5 841.1 V846.8"/>
</g>
<text transform="translate(137.6,159.1) scale(0.986,1)" letter-spacing="-3.04">20</text>
<text transform="translate(136.8,256.5) scale(0.986,1)" letter-spacing="-3.04">15</text>
<text transform="translate(137.6,356.5) scale(0.986,1)" letter-spacing="-3.04">10</text>
<text transform="translate(161.5,458.0) scale(0.986,1)">5</text>
<text transform="translate(161.5,554.0) scale(0.986,1)">0</text>
<text transform="translate(156.3,655.3) scale(0.986,1)">5</text><text transform="translate(127.3,657.9) scale(1.218,1)">−</text>
<text transform="translate(137.7,756.0) scale(0.986,1)" letter-spacing="-3.04">10</text><text transform="translate(108.6,758.6) scale(1.218,1)">−</text>
<text transform="translate(137.2,852.8) scale(0.986,1)" letter-spacing="-3.04">15</text><text transform="translate(108.8,855.4) scale(1.218,1)">−</text>
<text transform="translate(195.8,889.8) scale(0.986,1)" text-anchor="middle">1</text>
<text transform="translate(288.8,889.8) scale(0.986,1)" text-anchor="middle">2</text>
<text transform="translate(381.8,889.8) scale(0.986,1)" text-anchor="middle">3</text>
<text transform="translate(474.8,889.8) scale(0.986,1)" text-anchor="middle">4</text>
<text transform="translate(567.8,889.8) scale(0.986,1)" text-anchor="middle">5</text>
<text transform="translate(660.8,889.8) scale(0.986,1)" text-anchor="middle">6</text>
<text transform="translate(753.8,889.8) scale(0.986,1)" text-anchor="middle">7</text>
<text transform="translate(846.8,889.8) scale(0.986,1)" text-anchor="middle">8</text>
<text transform="translate(939.8,889.8) scale(0.986,1)" text-anchor="middle">9</text>
<text transform="translate(1009.2,889.8) scale(0.986,1)" letter-spacing="-3.04">10</text>
<g class="ax">
<path stroke-width="3.7" stroke="#151515" d="M1150.0 94.3 V850.8"/>
<path stroke-width="2.5" d="M1150.0 839.4 H2018.7"/>
<path stroke-width="2.7" d="M1140.0 157.1 H1150.0 M1140.0 260.2 H1150.0 M1140.0 363.4 H1150.0 M1140.0 466.5 H1150.0 M1140.0 569.6 H1150.0 M1140.0 672.8 H1150.0 M1140.0 776.0 H1150.0 M1143.7 105.5 H1150.0 M1143.7 208.6 H1150.0 M1143.7 311.8 H1150.0 M1143.7 414.9 H1150.0 M1143.7 518.1 H1150.0 M1143.7 621.2 H1150.0 M1143.7 724.4 H1150.0 M1143.7 827.5 H1150.0 M1236.8 839.4 V850.8 M1323.5 839.4 V850.8 M1410.2 839.4 V850.8 M1497.0 839.4 V850.8 M1583.8 839.4 V850.8 M1670.5 839.4 V850.8 M1757.2 839.4 V850.8 M1844.0 839.4 V850.8 M1930.8 839.4 V850.8 M2017.5 839.4 V850.8 M1193.4 839.4 V844.9 M1280.1 839.4 V844.9 M1366.9 839.4 V844.9 M1453.6 839.4 V844.9 M1540.4 839.4 V844.9 M1627.1 839.4 V844.9 M1713.9 839.4 V844.9 M1800.6 839.4 V844.9 M1887.4 839.4 V844.9 M1974.1 839.4 V844.9"/>
</g>
<text transform="translate(1088.9,173.0) scale(0.986,1)" letter-spacing="-3.04">15</text>
<text transform="translate(1089.1,278.3) scale(0.986,1)" letter-spacing="-3.04">10</text>
<text transform="translate(1107.5,389.8) scale(0.986,1)">5</text>
<text transform="translate(1108.7,482.6) scale(0.986,1)">0</text>
<text transform="translate(1107.7,584.0) scale(0.986,1)">5</text><text transform="translate(1079.3,586.6) scale(1.218,1)">−</text>
<text transform="translate(1089.1,685.3) scale(0.986,1)" letter-spacing="-3.04">10</text><text transform="translate(1060.3,687.9) scale(1.218,1)">−</text>
<text transform="translate(1088.9,792.5) scale(0.986,1)" letter-spacing="-3.04">15</text><text transform="translate(1060.5,795.1) scale(1.218,1)">−</text>
<text transform="translate(1150.8,889.5) scale(0.986,1)" text-anchor="middle">0</text>
<text transform="translate(1237.5,889.5) scale(0.986,1)" text-anchor="middle">1</text>
<text transform="translate(1324.3,889.5) scale(0.986,1)" text-anchor="middle">2</text>
<text transform="translate(1411.0,889.5) scale(0.986,1)" text-anchor="middle">3</text>
<text transform="translate(1497.8,889.5) scale(0.986,1)" text-anchor="middle">4</text>
<text transform="translate(1584.5,889.5) scale(0.986,1)" text-anchor="middle">5</text>
<text transform="translate(1671.3,889.5) scale(0.986,1)" text-anchor="middle">6</text>
<text transform="translate(1758.0,889.5) scale(0.986,1)" text-anchor="middle">7</text>
<text transform="translate(1844.8,889.5) scale(0.986,1)" text-anchor="middle">8</text>
<text transform="translate(1931.5,889.5) scale(0.986,1)" text-anchor="middle">9</text>
<text transform="translate(1998.4,889.5) scale(0.986,1)" letter-spacing="-3.04">10</text>
<text transform="translate(633.0,69.0) scale(0.986,1)" text-anchor="middle">(а)</text>
<text transform="translate(1593.5,69.0) scale(0.986,1)" text-anchor="middle">(б)</text>
<text transform="translate(383.3,950.0) scale(0.986,1)">Количество яиц в гнезде</text>
<text transform="translate(1324.3,950.0) scale(0.986,1)">Количество птенцов в гнезде</text>
<text transform="translate(86.2,715.6) rotate(-90) scale(1,0.986)">Индекс состояния особи</text>
<line x1="1940.5" y1="130.5" x2="1983" y2="130.5" stroke="#000" stroke-width="3.7" stroke-dasharray="16.5 9"/>
<line x1="1940.5" y1="166" x2="1983" y2="166" stroke="#000" stroke-width="3.6"/>
<path d="M1960 196.3 h3.6 v2.6 h2.2 v3.6 h2.2 v4.2 h2.6 v3.8 h-17.4 v-3.8 h2.6 v-4.2 h2.2 v-3.6 h2 z" fill="#000"/>
<circle cx="1962.8" cy="239.3" r="8.4" fill="none" stroke="#222" stroke-width="1.5"/>
<text transform="translate(1994.5,142.3) scale(0.986,1)" class="it">1</text>
<text transform="translate(1994.5,177.3) scale(0.986,1)" class="it">2</text>
<text transform="translate(1994.5,215.5) scale(0.986,1)" class="it">1</text>
<text transform="translate(1994.5,254.8) scale(0.986,1)" class="it">2</text>
</svg></body></html>
